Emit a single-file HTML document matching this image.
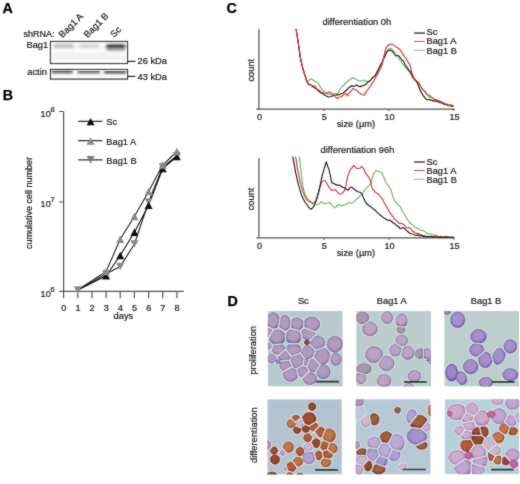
<!DOCTYPE html>
<html><head><meta charset="utf-8">
<style>
html,body{margin:0;padding:0;background:#fff;width:520px;height:484px;overflow:hidden}
svg{display:block;will-change:transform}
text{font-family:"Liberation Sans",sans-serif;fill:#1a1a1a;stroke:#1a1a1a;stroke-width:0.2px}
.pl{font-weight:bold;font-size:14.3px;fill:#000;stroke:#000;stroke-width:0.25}
.t9{font-size:8.7px}
.tv{font-size:9.3px}
.yl{font-size:9px}
.ax{stroke:#555;stroke-width:1.2;fill:none}
.tk{font-size:8.6px}
.sup{font-size:7px}
</style></head><body>
<svg width="520" height="484" viewBox="0 0 520 484">
<defs><filter id="gblur" x="0" y="0" width="100%" height="100%" filterUnits="userSpaceOnUse"><feConvolveMatrix order="3" kernelMatrix="1 2 1 2 20 2 1 2 1" divisor="32" edgeMode="duplicate" preserveAlpha="false"/></filter></defs>
<g filter="url(#gblur)">
<!-- ===== Panel A ===== -->
<text class="pl" x="2.5" y="12.7">A</text>
<text class="t9" transform="translate(23.6,36.8) scale(1.07,1)" style="font-size:8.4px">shRNA:</text>
<text class="tv" transform="translate(62.5,38.3) rotate(-45)">Bag1 A</text>
<text class="tv" transform="translate(87.5,38.3) rotate(-45)">Bag1 B</text>
<text class="tv" transform="translate(114,38) rotate(-45)">Sc</text>
<text class="t9" transform="translate(26.5,47.6) scale(1.07,1)">Bag1</text>
<text class="t9" transform="translate(27.3,75) scale(1.07,1)">actin</text>
<defs>
<filter id="b1" x="-30%" y="-100%" width="160%" height="300%"><feGaussianBlur stdDeviation="1.7 1.1"/></filter>
<filter id="b2" x="-30%" y="-100%" width="160%" height="300%"><feGaussianBlur stdDeviation="1.0 0.6"/></filter>
<clipPath id="cpA1"><rect x="51" y="42" width="76" height="21"/></clipPath>
<clipPath id="cpA2"><rect x="51" y="70" width="76" height="9"/></clipPath>
</defs>
<rect x="50.5" y="41.5" width="77" height="22" fill="#fafafa" stroke="#1e1e1e" stroke-width="1.15"/>
<g clip-path="url(#cpA1)">
<g filter="url(#b1)">
<rect x="53.5" y="43.8" width="20.5" height="4.4" rx="2" fill="#c2c2c2"/>
<rect x="79" y="44" width="20.5" height="4" rx="2" fill="#d6d6d6"/>
<rect x="106" y="44.2" width="19.5" height="4.6" rx="2.2" fill="#3c3c3c"/>
<rect x="106.5" y="48" width="18.5" height="3" rx="1.5" fill="#a4a4a4"/>
<rect x="53" y="53" width="72" height="7" fill="#f3f3f3"/>
</g>
</g>
<rect x="50.5" y="69.5" width="77" height="9.6" fill="#f8f8f8" stroke="#1e1e1e" stroke-width="1.15"/>
<g clip-path="url(#cpA2)">
<g filter="url(#b2)">
<rect x="51.8" y="70.8" width="20.8" height="1.9" rx="1" fill="#585858"/>
<rect x="51.8" y="72.2" width="20.8" height="2" rx="1" fill="#a2a2a2"/>
<rect x="77.5" y="70.9" width="22.5" height="1.9" rx="1" fill="#5c5c5c"/>
<rect x="77.5" y="72.3" width="22.5" height="2" rx="1" fill="#a6a6a6"/>
<rect x="104.2" y="70.9" width="21.8" height="2.0" rx="1" fill="#545454"/>
<rect x="104.2" y="72.4" width="21.8" height="2" rx="1" fill="#a0a0a0"/>
</g>
</g>
<line x1="127.5" y1="61.4" x2="135.5" y2="61.4" stroke="#222" stroke-width="1.15"/>
<line x1="127.5" y1="76.4" x2="135.5" y2="76.4" stroke="#222" stroke-width="1.15"/>
<text class="t9" transform="translate(137.5,63.8) scale(1.07,1)">26 kDa</text>
<text class="t9" transform="translate(137.5,79.5) scale(1.07,1)">43 kDa</text>

<!-- ===== Panel B ===== -->
<text class="pl" x="2.8" y="99.9">B</text>
<g class="ax">
<path d="M63.6,111.5V291.4M59,111.5H63.6M59,202H63.6M59,291.4H183.8"/>
<path d="M63.6,291.4V298.3M77.8,291.4V298.3M91.9,291.4V298.3M106.1,291.4V298.3M120.2,291.4V298.3M134.4,291.4V298.3M148.6,291.4V298.3M162.7,291.4V298.3M176.9,291.4V298.3"/>
</g>
<text class="tk" transform="translate(63.8,311) scale(1.07,1)" text-anchor="middle">0</text>
<text class="tk" transform="translate(78.0,311) scale(1.07,1)" text-anchor="middle">1</text>
<text class="tk" transform="translate(92.1,311) scale(1.07,1)" text-anchor="middle">2</text>
<text class="tk" transform="translate(106.3,311) scale(1.07,1)" text-anchor="middle">3</text>
<text class="tk" transform="translate(120.4,311) scale(1.07,1)" text-anchor="middle">4</text>
<text class="tk" transform="translate(134.6,311) scale(1.07,1)" text-anchor="middle">5</text>
<text class="tk" transform="translate(148.8,311) scale(1.07,1)" text-anchor="middle">6</text>
<text class="tk" transform="translate(162.9,311) scale(1.07,1)" text-anchor="middle">7</text>
<text class="tk" transform="translate(177.1,311) scale(1.07,1)" text-anchor="middle">8</text>
<text class="t9" transform="translate(113.6,318.5) scale(1.07,1)">days</text>
<text class="tk" transform="translate(40.6,116.8) scale(1.07,1)">10</text><text class="sup" transform="translate(50.4,111.8) scale(1.07,1)">8</text>
<text class="tk" transform="translate(40.6,206.5) scale(1.07,1)">10</text><text class="sup" transform="translate(50.4,201.5) scale(1.07,1)">7</text>
<text class="tk" transform="translate(40.6,296.6) scale(1.07,1)">10</text><text class="sup" transform="translate(50.4,291.6) scale(1.07,1)">6</text>
<text class="yl" transform="translate(31.5,249) rotate(-90) scale(1,1.07)">cumulative cell number</text>
<polyline points="77.8,290 106.1,273.7 120.2,266.5 134.4,244 148.6,202 162.7,167 176.9,155.7" fill="none" stroke="#222" stroke-width="1.1"/>
<polyline points="77.8,290 106.1,271.5 120.2,239.3 134.4,216.5 148.6,191.5 162.7,165 176.9,151.5" fill="none" stroke="#222" stroke-width="1.1"/>
<polyline points="77.8,290 106.1,275.8 120.2,255.5 134.4,232.3 148.6,205.2 162.7,168.5 176.9,156.5" fill="none" stroke="#111" stroke-width="1.1"/>
<path d="M73.8,286.3L81.8,286.3L77.8,293.7Z" fill="#8a8a8a"/>
<path d="M102.1,270.0L110.1,270.0L106.1,277.4Z" fill="#8a8a8a"/>
<path d="M116.2,262.8L124.2,262.8L120.2,270.2Z" fill="#8a8a8a"/>
<path d="M130.4,240.3L138.4,240.3L134.4,247.7Z" fill="#8a8a8a"/>
<path d="M144.6,198.3L152.6,198.3L148.6,205.7Z" fill="#8a8a8a"/>
<path d="M158.7,163.3L166.7,163.3L162.7,170.7Z" fill="#8a8a8a"/>
<path d="M172.9,152.0L180.9,152.0L176.9,159.4Z" fill="#8a8a8a"/>
<path d="M106.1,272.1L110.1,279.5L102.1,279.5Z" fill="#111"/>
<path d="M120.2,251.8L124.2,259.2L116.2,259.2Z" fill="#111"/>
<path d="M134.4,228.6L138.4,236.0L130.4,236.0Z" fill="#111"/>
<path d="M148.6,201.5L152.6,208.9L144.6,208.9Z" fill="#111"/>
<path d="M162.7,164.8L166.7,172.2L158.7,172.2Z" fill="#111"/>
<path d="M176.9,152.8L180.9,160.2L172.9,160.2Z" fill="#111"/>
<path d="M106.1,267.8L110.1,275.2L102.1,275.2Z" fill="#8a8a8a"/>
<path d="M120.2,235.6L124.2,243.0L116.2,243.0Z" fill="#8a8a8a"/>
<path d="M134.4,212.8L138.4,220.2L130.4,220.2Z" fill="#8a8a8a"/>
<path d="M148.6,187.8L152.6,195.2L144.6,195.2Z" fill="#8a8a8a"/>
<path d="M162.7,161.3L166.7,168.7L158.7,168.7Z" fill="#8a8a8a"/>
<path d="M176.9,147.8L180.9,155.2L172.9,155.2Z" fill="#8a8a8a"/>
<path d="M78.2,121.4H102.4M78.2,140.7H102.4M78.2,159.8H102.4" stroke="#333" stroke-width="1.2" fill="none"/>
<path d="M90.6,117.9L94.6,125.3L86.6,125.3Z" fill="#111"/>
<path d="M90.6,137.3L94.6,144.7L86.6,144.7Z" fill="#8a8a8a"/>
<path d="M86.6,156.1L94.6,156.1L90.6,163.5Z" fill="#7a7a7a"/>
<text class="t9" transform="translate(106.3,125) scale(1.07,1)">Sc</text>
<text class="t9" transform="translate(106.3,144.5) scale(1.07,1)">Bag1 A</text>
<text class="t9" transform="translate(106.3,163.5) scale(1.07,1)">Bag1 B</text>
<!-- ===== Panel C ===== -->
<text class="pl" x="226.4" y="12.9">C</text>
<path class="ax" d="M258.9,29V109.1M256.2,109.1H454.4M323.8,109.1v2M389,109.1v2M453.9,109.1v2"/>
<text class="tk" transform="translate(259.5,119.6) scale(1.07,1)" text-anchor="middle">0</text>
<text class="tk" transform="translate(324.4,119.6) scale(1.07,1)" text-anchor="middle">5</text>
<text class="tk" transform="translate(389.6,119.6) scale(1.07,1)" text-anchor="middle">10</text>
<text class="tk" transform="translate(454.6,119.6) scale(1.07,1)" text-anchor="middle">15</text>
<text class="t9" transform="translate(336.7,127) scale(1.07,1)">size (µm)</text>
<path class="ax" d="M258.9,158V237.8M256.2,237.8H454.4M323.8,237.8v2M389,237.8v2M453.9,237.8v2"/>
<text class="tk" transform="translate(259.5,248.6) scale(1.07,1)" text-anchor="middle">0</text>
<text class="tk" transform="translate(324.4,248.6) scale(1.07,1)" text-anchor="middle">5</text>
<text class="tk" transform="translate(389.6,248.6) scale(1.07,1)" text-anchor="middle">10</text>
<text class="tk" transform="translate(454.6,248.6) scale(1.07,1)" text-anchor="middle">15</text>
<text class="t9" transform="translate(336.7,256) scale(1.07,1)">size (µm)</text>
<text class="t9" transform="translate(322.6,24.7) scale(1.07,1)">differentiation 0h</text>
<text class="t9" transform="translate(320.6,152.7) scale(1.07,1)">differentiation 96h</text>
<text class="tv" transform="translate(253.9,81.6) rotate(-90) scale(1,1.07)">count</text>
<text class="tv" transform="translate(254.4,210.3) rotate(-90) scale(1,1.07)">count</text>
<polyline points="296.1,29.1 298.4,43.6 300.2,56.6 302.1,65.9 303.5,70.6 304.9,74.8 306.7,79.9 308.6,80.8 310.0,79.4 311.4,78.9 312.7,79.6 314.0,80.7 316.0,82.0 317.4,82.6 318.8,83.9 320.6,87.6 322.5,89.9 324.1,91.5 325.6,91.9 327.2,93.6 328.6,94.2 329.9,93.9 331.3,94.9 332.7,95.1 334.1,93.7 335.5,93.2 336.9,93.3 338.3,93.3 340.0,89.0 341.9,86.9 343.7,85.3 345.3,83.3 346.8,82.0 348.4,80.6 349.9,79.8 351.5,78.5 353.0,77.6 354.9,78.5 356.7,79.8 358.5,80.5 360.4,81.2 361.8,81.1 363.2,79.9 365.0,80.9 366.9,81.4 368.5,81.3 370.0,80.2 371.6,78.5 373.5,76.9 375.3,75.4 377.1,72.6 379.0,70.1 380.9,65.8 382.7,62.2 384.1,57.5 385.5,53.3 386.9,51.2 388.3,48.9 389.7,48.7 391.1,48.6 393.0,50.5 394.8,52.0 396.2,54.1 397.6,55.5 400.0,60.2 402.4,63.4 404.2,65.8 406.1,68.2 408.0,70.6 409.9,72.6 411.2,75.3 412.6,77.8 414.2,79.4 415.7,81.0 417.3,82.9 418.8,84.8 420.4,86.8 421.9,89.1 423.8,90.9 425.6,93.2 427.2,95.2 428.7,96.7 430.3,97.5 431.7,98.0 433.1,98.4 434.5,99.5 435.9,100.7 437.3,101.2 438.6,101.6 440.0,102.7 441.4,102.7 442.8,103.6 444.2,104.6 445.6,104.7 447.0,105.2 448.3,105.2 449.6,105.9 450.9,106.6 452.2,105.9 453.5,106.7" fill="none" stroke="#62bc5c" stroke-width="1.15" stroke-linejoin="round"/>
<polyline points="296.1,29.1 298.4,43.6 300.2,56.6 302.1,65.9 303.5,70.6 304.9,75.2 306.7,81.2 308.6,84.6 310.0,84.4 311.4,85.2 312.8,86.8 314.2,87.5 315.6,88.6 316.9,89.3 318.3,90.8 319.7,92.0 321.1,92.9 322.5,93.4 323.9,94.6 325.3,95.5 327.1,96.3 329.0,97.0 330.4,96.8 331.8,96.1 333.2,95.8 334.6,95.3 336.0,94.9 337.3,94.6 338.6,94.9 340.0,94.5 341.4,93.6 342.8,93.3 344.2,92.0 345.6,91.1 347.0,89.5 348.4,88.1 349.7,87.3 351.1,85.9 352.5,86.1 353.9,86.4 355.3,85.8 356.7,85.1 358.5,86.3 360.4,86.6 362.0,85.9 363.5,85.5 365.1,84.7 366.6,83.5 368.2,81.8 369.7,81.2 371.1,79.8 372.5,77.6 373.9,76.9 375.3,75.4 376.9,72.1 378.4,69.0 380.0,65.9 381.9,62.6 383.7,58.4 385.5,55.1 387.4,50.8 388.8,50.7 390.2,49.9 391.5,50.7 392.9,52.0 394.3,54.3 395.7,55.9 397.1,55.8 398.5,55.7 400.1,57.5 401.8,59.7 403.4,60.8 405.2,64.9 407.1,67.4 409.0,70.5 410.8,72.2 412.2,75.7 413.6,78.1 415.5,80.3 417.3,82.6 418.7,86.5 420.1,90.1 421.5,92.6 422.9,95.3 424.8,97.5 426.6,99.8 428.0,99.7 429.4,99.3 430.7,100.3 432.1,100.4 434.0,101.1 435.9,100.8 437.3,101.8 438.6,101.6 440.0,102.7 441.4,102.8 442.8,103.2 444.2,104.4 445.6,104.0 447.0,104.9 448.3,105.6 449.6,105.2 450.9,105.4 452.2,106.4 453.5,106.3" fill="none" stroke="#1e1e1e" stroke-width="1.15" stroke-linejoin="round"/>
<polyline points="296.1,29.1 298.4,43.6 300.2,56.6 302.1,65.9 303.5,70.6 304.9,75.2 306.7,80.4 308.6,84.1 310.0,84.5 311.4,85.3 312.8,85.9 314.2,85.8 315.6,86.9 316.9,89.0 318.3,89.6 319.7,90.7 321.1,92.2 322.5,92.3 323.9,93.4 325.3,93.7 326.9,93.3 328.4,92.1 330.0,92.0 331.9,93.7 333.7,94.7 335.5,96.8 337.4,98.6 339.2,97.0 341.1,96.8 342.6,95.7 344.2,94.4 345.7,93.2 347.4,95.9 348.8,93.6 350.2,92.1 351.6,90.4 353.0,88.4 354.9,89.6 356.7,89.9 358.5,92.2 360.4,93.6 362.3,94.7 364.2,95.1 366.0,91.9 367.9,89.6 369.4,87.2 371.0,85.6 372.5,82.5 374.1,80.3 375.6,77.4 377.2,75.2 378.7,72.0 380.3,68.8 381.8,65.9 383.6,57.5 385.5,49.2 386.9,46.9 388.3,44.9 390.1,44.3 392.0,44.1 393.4,44.9 394.8,45.9 396.2,47.0 397.6,47.8 400.0,49.5 402.4,53.4 404.2,56.1 406.1,58.5 408.0,61.9 409.9,64.9 411.2,70.0 412.6,74.8 414.0,77.8 415.4,79.9 417.2,81.4 419.1,83.0 421.0,86.7 422.9,89.6 424.8,90.9 426.6,94.0 428.5,95.0 430.3,96.1 431.8,97.2 433.4,98.7 434.9,99.7 436.5,99.4 438.0,100.6 439.6,100.6 441.1,102.0 442.7,102.2 444.2,103.4 445.8,104.2 447.3,104.3 448.9,105.4 450.4,105.0 452.0,105.0 453.5,105.8" fill="none" stroke="#d9343c" stroke-width="1.15" stroke-linejoin="round"/>
<polyline points="299.3,156.5 301.1,172.3 303.0,187.2 304.4,191.8 305.8,196.1 307.6,198.3 309.5,201.0 311.1,202.0 312.6,203.1 314.2,204.7 316.0,204.8 317.9,204.2 319.8,203.2 321.6,201.7 323.5,203.0 325.3,203.7 326.8,203.2 328.4,202.8 329.9,202.6 331.5,204.9 333.0,206.4 334.6,207.9 336.5,206.5 338.3,204.5 340.1,205.0 342.0,205.8 343.9,205.1 345.7,204.3 347.2,203.8 348.7,202.4 350.5,203.0 352.4,203.1 354.2,201.6 356.1,199.8 358.0,198.3 359.9,195.9 361.8,194.1 363.6,191.3 365.5,189.1 367.3,187.0 369.1,185.7 371.0,183.4 372.9,175.2 374.3,173.2 375.7,170.8 377.0,170.9 378.4,171.3 379.8,172.0 381.2,172.2 382.6,174.7 384.0,177.7 385.4,181.5 386.8,183.9 388.6,186.2 390.5,189.0 392.4,194.6 394.2,200.3 395.8,201.8 397.3,203.9 398.9,205.7 400.5,206.8 402.1,210.8 403.7,213.2 405.5,216.5 407.4,219.4 409.3,222.0 411.2,223.8 413.0,225.4 414.9,227.4 416.8,227.9 418.6,229.1 420.3,230.2 421.9,230.2 423.6,230.9 425.2,231.9 426.9,233.4 428.5,234.0 430.1,234.0 431.6,234.5 433.1,234.7 434.7,235.5 436.2,235.2 437.8,236.2 439.3,236.6 440.9,236.9 442.3,236.8 443.8,237.1 445.2,236.2 446.7,236.6 448.2,237.4 449.6,237.3 451.0,236.9 452.5,237.5 453.9,237.0" fill="none" stroke="#62bc5c" stroke-width="1.15" stroke-linejoin="round"/>
<polyline points="295.6,156.5 297.4,168.6 298.8,175.1 300.2,181.6 301.6,186.7 303.0,191.9 304.4,195.3 305.8,198.6 307.6,200.2 309.5,201.4 311.4,203.0 313.2,203.4 314.6,202.0 316.0,200.7 317.4,196.2 318.8,191.8 320.2,186.7 321.6,182.0 323.5,180.7 325.3,180.7 327.1,183.7 329.0,187.2 330.4,189.1 331.8,190.4 333.6,190.1 335.5,189.7 337.1,191.9 338.6,193.3 340.2,194.2 342.0,193.5 343.9,191.4 345.5,188.0 347.8,176.1 349.2,172.3 350.6,169.0 352.0,168.1 353.4,165.5 354.8,166.4 356.1,168.1 357.5,168.5 358.9,168.4 360.3,168.0 361.7,166.3 363.6,168.8 365.4,172.9 366.8,175.1 368.2,176.2 370.1,179.7 371.9,187.7 373.3,189.9 374.7,191.6 376.5,193.0 378.4,194.2 380.3,196.5 382.2,198.7 384.0,202.2 385.9,205.8 387.8,208.4 389.6,212.4 391.1,214.2 392.7,216.3 394.2,219.1 395.8,220.1 397.3,221.4 398.9,223.0 400.3,223.6 401.7,223.2 403.1,224.5 404.6,225.3 406.2,228.0 408.7,227.5 410.5,228.4 412.4,231.1 414.2,231.9 416.1,233.4 417.8,233.4 419.4,234.1 421.1,234.8 422.6,235.9 424.1,235.3 425.5,236.2 427.0,236.6 428.5,236.9 429.9,236.3 431.4,236.4 432.9,236.6 434.3,237.0 435.8,236.3 437.2,237.1 438.6,237.1 440.0,237.2 441.3,236.4 442.7,237.4 444.1,236.5 445.5,236.8 446.8,237.1 448.2,237.4 449.6,236.8 451.0,237.6 452.5,237.2 453.9,237.3" fill="none" stroke="#d9343c" stroke-width="1.15" stroke-linejoin="round"/>
<polyline points="292.8,156.5 294.2,164.4 295.6,172.3 297.0,178.4 298.4,184.4 299.8,189.1 301.1,194.0 303.0,198.2 304.9,202.0 306.8,204.5 308.6,207.1 310.0,208.5 311.4,209.1 312.8,207.7 314.2,205.6 315.5,202.3 316.9,198.3 318.3,192.8 319.7,187.2 321.1,180.6 322.5,174.1 324.4,168.1 326.2,161.8 327.6,166.1 329.0,169.5 330.4,176.0 331.8,182.8 333.6,183.4 335.5,184.4 337.4,185.1 339.2,185.0 341.0,186.3 342.9,187.5 344.3,187.6 345.7,188.8 347.8,190.2 349.2,189.0 350.6,187.0 352.5,187.7 354.3,189.3 356.1,190.7 358.0,191.7 359.9,192.3 361.7,193.4 363.5,198.0 365.4,201.8 367.2,204.3 369.1,205.8 371.0,206.8 372.9,208.7 374.8,209.7 376.6,211.8 378.5,213.6 380.3,215.0 382.1,216.6 384.0,218.0 385.9,219.1 387.7,220.2 389.5,220.1 391.4,221.3 393.3,223.0 395.2,224.1 396.7,225.6 398.3,226.3 399.8,228.4 401.8,228.1 403.7,227.7 406.2,230.4 407.8,231.5 409.3,233.0 410.7,233.7 412.2,233.7 413.6,234.2 415.2,235.2 416.7,235.4 418.2,234.9 419.8,236.1 421.2,235.4 422.7,235.9 424.1,236.7 425.6,236.6 427.1,236.4 428.5,236.7 429.9,236.7 431.2,236.4 432.6,237.4 433.9,236.4 435.3,236.8 436.6,237.2 438.0,236.8 439.3,237.5 440.7,236.7 442.0,237.5 443.4,237.4 444.7,237.2 446.0,237.5 447.3,237.1 448.6,237.5 450.0,237.5 451.3,237.2 452.6,237.2 453.9,237.3" fill="none" stroke="#1e1e1e" stroke-width="1.15" stroke-linejoin="round"/>
<path d="M414,33.1H424.9" stroke="#4a4a4a" stroke-width="1.5"/>
<path d="M414,41.4H424.9" stroke="#d04a55" stroke-width="1"/>
<path d="M414,50.3H424.9" stroke="#7cc472" stroke-width="1"/>
<text class="t9" transform="translate(426.5,34.5) scale(1.07,1)">Sc</text>
<text class="t9" transform="translate(426.5,44.4) scale(1.07,1)">Bag1 A</text>
<text class="t9" transform="translate(426.5,53.8) scale(1.07,1)">Bag1 B</text>
<path d="M414,162H424.9" stroke="#4a4a4a" stroke-width="1.5"/>
<path d="M414,170.5H424.9" stroke="#d04a55" stroke-width="1"/>
<path d="M414,179.3H424.9" stroke="#7cc472" stroke-width="1"/>
<text class="t9" transform="translate(426.5,164.8) scale(1.07,1)">Sc</text>
<text class="t9" transform="translate(426.5,173.6) scale(1.07,1)">Bag1 A</text>
<text class="t9" transform="translate(426.5,182.5) scale(1.07,1)">Bag1 B</text><!-- ===== Panel D ===== -->
<text class="pl" x="227.4" y="305.9">D</text>
<defs>
<filter id="cb" x="-5%" y="-5%" width="110%" height="110%"><feGaussianBlur stdDeviation="0.6"/></filter>
<radialGradient id="gp" cx="48%" cy="46%" r="54%"><stop offset="0" stop-color="#ad9cbd"/><stop offset="0.55" stop-color="#ad9cbd"/><stop offset="0.82" stop-color="#a08eb3"/><stop offset="1" stop-color="#74649a"/></radialGradient>
<radialGradient id="gP" cx="48%" cy="46%" r="54%"><stop offset="0" stop-color="#a89ab4"/><stop offset="0.55" stop-color="#a89ab4"/><stop offset="0.82" stop-color="#9a8aa8"/><stop offset="1" stop-color="#7e6e94"/></radialGradient>
<radialGradient id="gq" cx="48%" cy="46%" r="54%"><stop offset="0" stop-color="#baa4c4"/><stop offset="0.55" stop-color="#baa4c4"/><stop offset="0.82" stop-color="#aa94b8"/><stop offset="1" stop-color="#766694"/></radialGradient>
<radialGradient id="gQ" cx="48%" cy="46%" r="54%"><stop offset="0" stop-color="#a898ae"/><stop offset="0.55" stop-color="#a898ae"/><stop offset="0.82" stop-color="#988aa0"/><stop offset="1" stop-color="#6e6282"/></radialGradient>
<radialGradient id="gv" cx="48%" cy="46%" r="54%"><stop offset="0" stop-color="#a690c8"/><stop offset="0.55" stop-color="#a690c8"/><stop offset="0.82" stop-color="#927cbc"/><stop offset="1" stop-color="#58489a"/></radialGradient>
<radialGradient id="gV" cx="48%" cy="46%" r="54%"><stop offset="0" stop-color="#9c88c8"/><stop offset="0.55" stop-color="#9c88c8"/><stop offset="0.82" stop-color="#8270b8"/><stop offset="1" stop-color="#4c3c90"/></radialGradient>
<radialGradient id="gb" cx="48%" cy="46%" r="54%"><stop offset="0" stop-color="#b85c2e"/><stop offset="0.55" stop-color="#b85c2e"/><stop offset="0.82" stop-color="#a24a24"/><stop offset="1" stop-color="#6a2a14"/></radialGradient>
<radialGradient id="gd" cx="48%" cy="46%" r="54%"><stop offset="0" stop-color="#9a4a28"/><stop offset="0.55" stop-color="#9a4a28"/><stop offset="0.82" stop-color="#82381c"/><stop offset="1" stop-color="#58220e"/></radialGradient>
<radialGradient id="go" cx="48%" cy="46%" r="54%"><stop offset="0" stop-color="#c47444"/><stop offset="0.55" stop-color="#c47444"/><stop offset="0.82" stop-color="#ae5e32"/><stop offset="1" stop-color="#763418"/></radialGradient>
<radialGradient id="gl" cx="48%" cy="46%" r="54%"><stop offset="0" stop-color="#b0a2d0"/><stop offset="0.55" stop-color="#b0a2d0"/><stop offset="0.82" stop-color="#a090c4"/><stop offset="1" stop-color="#8070ac"/></radialGradient>
<radialGradient id="gL" cx="48%" cy="46%" r="54%"><stop offset="0" stop-color="#a494cc"/><stop offset="0.55" stop-color="#a494cc"/><stop offset="0.82" stop-color="#9080c0"/><stop offset="1" stop-color="#6c5ca8"/></radialGradient>
<radialGradient id="gg" cx="48%" cy="46%" r="54%"><stop offset="0" stop-color="#c8bad0"/><stop offset="0.55" stop-color="#c8bad0"/><stop offset="0.82" stop-color="#b8a8c4"/><stop offset="1" stop-color="#a494b4"/></radialGradient>
<radialGradient id="gh" cx="48%" cy="46%" r="54%"><stop offset="0" stop-color="#baacd4"/><stop offset="0.55" stop-color="#baacd4"/><stop offset="0.82" stop-color="#aa9cc8"/><stop offset="1" stop-color="#8c7cb2"/></radialGradient>
<radialGradient id="gf" cx="48%" cy="46%" r="54%"><stop offset="0" stop-color="#c2c6da"/><stop offset="0.55" stop-color="#c2c6da"/><stop offset="0.82" stop-color="#bec0d6"/><stop offset="1" stop-color="#b4b4d0"/></radialGradient>
<radialGradient id="gk" cx="48%" cy="46%" r="54%"><stop offset="0" stop-color="#cfaacb"/><stop offset="0.55" stop-color="#cfaacb"/><stop offset="0.82" stop-color="#c09ac0"/><stop offset="1" stop-color="#a07aa8"/></radialGradient>
<radialGradient id="gK" cx="48%" cy="46%" r="54%"><stop offset="0" stop-color="#c0a6d2"/><stop offset="0.55" stop-color="#c0a6d2"/><stop offset="0.82" stop-color="#b096c6"/><stop offset="1" stop-color="#9478ae"/></radialGradient>
<radialGradient id="gm" cx="48%" cy="46%" r="54%"><stop offset="0" stop-color="#c8669a"/><stop offset="0.55" stop-color="#c8669a"/><stop offset="0.82" stop-color="#b8588c"/><stop offset="1" stop-color="#984476"/></radialGradient>
<radialGradient id="gr" cx="48%" cy="46%" r="54%"><stop offset="0" stop-color="#a23c48"/><stop offset="0.55" stop-color="#a23c48"/><stop offset="0.82" stop-color="#8a2c34"/><stop offset="1" stop-color="#6a1e24"/></radialGradient>
<radialGradient id="gR" cx="48%" cy="46%" r="54%"><stop offset="0" stop-color="#8a4a3a"/><stop offset="0.55" stop-color="#8a4a3a"/><stop offset="0.82" stop-color="#7a3428"/><stop offset="1" stop-color="#5a2018"/></radialGradient>
<radialGradient id="gB" cx="48%" cy="46%" r="54%"><stop offset="0" stop-color="#a0603a"/><stop offset="0.55" stop-color="#a0603a"/><stop offset="0.82" stop-color="#8a4a2a"/><stop offset="1" stop-color="#5c2c16"/></radialGradient>
<radialGradient id="gx" cx="48%" cy="46%" r="54%"><stop offset="0" stop-color="#a44c2a"/><stop offset="0.55" stop-color="#a44c2a"/><stop offset="0.82" stop-color="#8c3c1e"/><stop offset="1" stop-color="#5e2410"/></radialGradient>
<clipPath id="ci1"><rect x="267.8" y="311" width="75.0" height="75.5"/></clipPath>
<clipPath id="ci2"><rect x="356.2" y="311.1" width="74.8" height="75.4"/></clipPath>
<clipPath id="ci3"><rect x="444.2" y="311.1" width="74.8" height="75.5"/></clipPath>
<clipPath id="ci4"><rect x="267.3" y="399.2" width="74.6" height="75.3"/></clipPath>
<clipPath id="ci5"><rect x="355.6" y="399.2" width="75.0" height="75.3"/></clipPath>
<clipPath id="ci6"><rect x="444.8" y="399.2" width="74.5" height="75.0"/></clipPath>
</defs>
<g clip-path="url(#ci1)">
<rect x="267.8" y="311" width="75.0" height="75.5" fill="#b7c9cc"/>
<g filter="url(#cb)">
<path d="M276.8,312.5 275.1,311.7 273.3,311.4 271.6,311.6 269.9,312.3 268.4,313.5 267.1,315.0 266.2,316.8 265.6,318.8 265.4,320.9 265.6,323.0 266.1,325.0 266.8,326.4 267.3,326.8 273.3,329.4 273.9,329.4 277.9,328.4 278.4,328.1 278.7,327.5 280.3,317.4 279.3,315.0 278.2,313.7Z" fill="#eaeaf4" opacity="0.9"/>
<path d="M290.2,317.5 289.2,316.1 287.9,315.0 286.2,314.2 284.8,314.0 283.2,314.2 281.7,314.9 280.6,315.8 280.2,316.4 278.7,326.5 278.7,327.1 279.7,328.7 284.7,331.4 285.3,331.5 286.4,331.3 287.7,330.7 289.2,329.5 290.2,328.1 290.7,326.9 291.3,320.8 291.0,319.2Z" fill="#eaeaf4" opacity="0.9"/>
<path d="M301.8,318.2 300.1,317.2 298.5,316.7 297.0,316.6 295.3,316.7 293.7,317.2 292.0,318.2 291.3,319.3 290.4,327.5 290.7,328.3 291.3,328.8 299.3,330.9 300.1,330.8 301.8,329.8 303.0,328.6 303.9,326.9 303.9,321.2 303.0,319.4Z" fill="#eaeaf4" opacity="0.9"/>
<path d="M320.2,320.6 318.9,318.8 317.4,317.6 315.7,316.6 313.7,316.1 311.7,315.9 309.7,316.1 307.7,316.7 306.0,317.7 304.7,318.8 303.9,319.9 303.7,320.5 303.7,327.0 303.8,327.6 304.3,327.9 314.3,331.8 315.9,331.5 317.4,330.6 318.9,329.4 320.0,327.8 320.8,326.1 321.0,324.0 320.8,322.1Z" fill="#eaeaf4" opacity="0.9"/>
<path d="M272.5,329.3 271.9,328.6 267.0,326.5 266.4,326.4 265.5,327.1 264.5,329.3 264.2,330.7 264.2,333.3 265.0,336.0 266.5,338.0 267.2,338.4 268.0,338.5 268.6,338.0 272.7,331.2 272.8,330.5Z" fill="#eaeaf4" opacity="0.9"/>
<path d="M281.6,329.6 279.6,329.0 277.3,328.7 275.2,329.0 273.8,329.4 273.2,329.9 268.2,338.2 268.1,338.8 268.9,341.2 270.1,342.8 271.6,344.1 273.4,344.9 283.0,344.0 284.7,342.8 285.5,341.6 285.7,341.0 285.5,333.2 284.7,331.8 283.2,330.5Z" fill="#eaeaf4" opacity="0.9"/>
<path d="M300.2,331.0 291.0,328.5 289.8,328.7 287.9,329.9 286.6,331.4 285.6,332.9 285.3,333.9 285.5,340.4 286.7,342.6 287.7,343.6 288.4,343.9 298.6,343.9 299.3,343.6 300.4,342.4 301.4,340.9 302.1,338.5 301.0,332.3Z" fill="#eaeaf4" opacity="0.9"/>
<path d="M304.5,328.1 302.9,328.8 301.6,329.8 300.8,330.7 300.6,331.5 301.9,338.1 302.9,339.2 306.1,340.3 308.1,340.4 310.5,340.1 311.0,339.8 316.1,334.0 316.3,332.9 315.7,332.1 305.3,328.1Z" fill="#eaeaf4" opacity="0.9"/>
<path d="M324.1,337.7 322.6,336.3 321.0,335.4 319.5,334.9 317.4,334.7 315.1,335.1 309.3,341.4 309.0,342.3 309.2,344.0 309.5,344.6 314.4,349.4 315.5,349.9 317.0,349.9 323.5,347.7 324.1,347.1 325.2,345.7 325.7,344.2 326.0,342.5 325.7,340.6 325.0,338.9Z" fill="#eaeaf4" opacity="0.9"/>
<path d="M343.7,344.3 343.5,342.3 342.9,340.3 341.7,338.4 340.5,337.1 338.8,335.9 336.9,335.2 334.9,335.0 332.7,335.2 330.8,335.9 329.1,337.1 327.8,338.5 326.7,340.3 326.1,342.3 325.9,344.1 326.1,346.1 326.7,348.1 327.9,350.0 329.1,351.3 330.8,352.5 332.7,353.2 334.7,353.4 336.9,353.2 338.8,352.5 340.5,351.3 341.8,349.9 342.9,348.1 343.5,346.1Z" fill="#eaeaf4" opacity="0.9"/>
<path d="M284.5,345.1 283.1,344.0 282.5,343.9 273.7,344.7 272.9,345.4 271.2,350.4 271.6,351.8 272.7,353.3 275.2,354.9 276.9,355.4 278.1,355.5 278.8,355.3 285.8,349.4 286.1,348.5 285.9,347.5 285.3,346.1Z" fill="#eaeaf4" opacity="0.9"/>
<path d="M300.8,345.9 298.9,343.9 298.3,343.7 288.7,343.7 287.2,344.7 286.1,346.2 285.5,347.7 285.6,349.1 290.2,355.2 291.6,355.8 292.6,355.8 299.5,353.6 300.8,352.3 301.5,350.5 301.7,349.0 301.5,347.4Z" fill="#eaeaf4" opacity="0.9"/>
<path d="M310.1,344.9 309.5,344.6 307.9,344.4 306.2,344.7 304.7,345.3 303.3,346.2 302.1,347.4 301.2,348.9 300.8,350.3 300.6,352.2 301.0,354.5 304.7,358.8 306.2,359.5 307.9,359.8 309.5,359.6 311.1,359.0 312.7,358.0 313.8,356.7 315.3,351.5 315.2,350.3 314.9,349.5Z" fill="#eaeaf4" opacity="0.9"/>
<path d="M327.8,349.1 326.0,347.8 324.6,347.3 323.9,347.3 316.0,350.1 315.3,350.9 313.7,356.3 313.9,358.5 320.4,365.0 321.0,365.3 322.4,365.4 324.1,365.2 326.0,364.6 327.8,363.3 329.3,361.6 330.8,355.3 330.8,354.3 330.1,352.1 329.2,350.6Z" fill="#eaeaf4" opacity="0.9"/>
<path d="M342.4,357.9 341.9,356.4 341.2,355.0 340.0,353.7 338.7,352.9 337.3,352.3 336.0,352.2 334.5,352.3 332.9,353.0 330.9,354.7 329.4,360.5 329.4,361.1 330.6,363.8 331.6,364.9 332.9,365.8 334.5,366.5 335.8,366.6 337.3,366.5 338.9,365.8 340.2,364.9 341.2,363.8 341.9,362.4 342.4,360.9Z" fill="#eaeaf4" opacity="0.9"/>
<path d="M277.0,358.7 276.8,357.3 275.7,355.1 274.0,353.8 271.6,353.2 269.2,353.7 268.0,354.4 266.5,356.4 266.0,358.5 266.2,359.9 267.3,362.1 269.0,363.4 271.4,364.0 273.8,363.5 275.0,362.8 276.5,360.8Z" fill="#eaeaf4" opacity="0.9"/>
<path d="M285.1,350.1 284.4,350.3 277.6,356.0 277.3,356.9 277.9,358.7 278.9,360.0 280.3,361.1 280.9,361.2 289.4,360.2 290.1,359.8 290.9,358.7 291.4,357.4 291.3,356.3 287.0,350.6 286.4,350.3Z" fill="#eaeaf4" opacity="0.9"/>
<path d="M291.1,356.4 290.0,359.2 289.9,361.2 292.0,366.7 292.5,367.5 293.9,368.5 295.2,369.1 296.1,369.0 302.6,365.6 303.1,364.9 304.3,358.6 304.1,357.8 300.7,353.7 300.2,353.4 299.6,353.4 291.7,355.9Z" fill="#eaeaf4" opacity="0.9"/>
<path d="M279.9,361.5 278.8,363.7 278.6,365.2 278.8,366.9 279.4,368.3 280.2,369.5 281.3,370.6 282.6,371.3 283.7,371.4 291.4,367.2 291.9,366.7 291.9,366.0 290.0,360.7 289.6,360.2 288.9,360.1 280.6,361.0Z" fill="#eaeaf4" opacity="0.9"/>
<path d="M308.0,358.3 306.8,357.9 305.8,357.8 304.7,357.9 304.1,358.7 303.0,364.5 303.1,365.2 303.6,365.6 306.1,366.5 306.8,366.5 307.3,366.0 309.5,360.4 309.3,359.4Z" fill="#eaeaf4" opacity="0.9"/>
<path d="M310.4,358.8 309.7,359.4 307.0,366.3 307.0,367.2 309.3,371.4 310.2,372.1 311.6,372.7 313.1,372.9 314.8,372.7 315.6,372.2 319.7,365.5 319.8,364.4 319.5,363.8 313.9,358.3 313.0,358.1 311.6,358.3Z" fill="#eaeaf4" opacity="0.9"/>
<path d="M295.8,368.5 294.0,367.4 292.3,366.9 291.5,367.0 283.0,371.5 282.5,372.1 282.2,372.9 282.0,374.5 282.2,376.3 282.8,377.9 284.0,379.6 285.3,380.9 287.0,381.8 288.7,382.3 290.4,382.5 292.3,382.3 294.0,381.8 295.7,380.9 297.0,379.6 298.2,377.9 298.5,376.6 296.4,369.2Z" fill="#eaeaf4" opacity="0.9"/>
<path d="M298.1,375.9 298.5,376.5 299.6,377.1 301.1,377.7 302.2,377.8 303.0,377.5 308.9,371.7 309.2,371.2 309.1,370.5 307.2,367.0 306.6,366.5 303.4,365.3 302.5,365.4 296.8,368.4 296.4,368.9 296.3,369.6Z" fill="#eaeaf4" opacity="0.9"/>
<path d="M331.1,370.0 330.6,368.2 329.6,366.7 328.2,365.2 326.9,364.3 325.3,363.7 323.5,363.5 321.7,363.7 320.5,364.1 320.0,364.5 315.7,371.6 315.7,373.6 316.2,375.2 317.2,376.7 318.4,378.0 319.9,379.1 321.7,379.7 323.3,379.9 325.1,379.7 326.9,379.1 328.4,378.0 329.6,376.7 330.6,375.2 331.1,373.4 331.3,371.8Z" fill="#eaeaf4" opacity="0.9"/>
<path d="M317.5,377.0 316.8,375.2 315.9,373.9 314.6,372.8 313.1,371.9 311.6,371.5 309.4,371.3 308.8,371.6 302.2,378.0 301.9,378.8 302.1,380.0 302.8,381.8 303.7,383.1 305.0,384.2 306.5,385.1 308.2,385.6 309.7,385.7 311.4,385.6 313.1,385.1 314.6,384.2 316.0,382.9 316.8,381.8 317.5,380.2 317.7,378.6Z" fill="#eaeaf4" opacity="0.9"/>
<path d="M272.2,345.2 271.6,343.3 270.4,342.1 268.8,341.6 267.3,342.2 266.3,343.5 265.8,345.2 266.0,347.7 266.8,349.2 267.6,349.9 268.8,350.4 269.7,350.3 270.7,349.8 271.2,349.2 272.0,347.9Z" fill="#eaeaf4" opacity="0.9"/>
<path d="M310.4,342.4 310.3,341.4 309.5,340.0 308.5,339.1 306.9,338.7 305.9,338.8 304.5,339.6 303.5,340.8 303.2,342.2 303.3,343.2 304.1,344.6 305.3,345.6 306.7,345.9 307.7,345.8 309.1,345.0 310.1,343.8Z" fill="#eaeaf4" opacity="0.9"/>
<path d="M281.0,361.7 280.8,360.4 280.3,359.6 279.2,358.8 278.1,358.6 277.2,358.7 276.0,359.3 275.3,360.2 275.0,361.5 275.2,362.8 275.7,363.6 276.6,364.3 277.9,364.6 279.2,364.4 280.0,363.9 280.7,363.0Z" fill="#eaeaf4" opacity="0.9"/>
<path d="M276.1,313.3 274.7,312.6 273.2,312.4 271.7,312.6 270.3,313.3 269.0,314.3 267.9,315.6 267.1,317.3 266.6,319.1 266.4,321.0 266.6,322.9 267.1,324.7 267.7,325.9 273.7,328.5 277.6,327.5 277.7,327.3 279.3,317.3 278.5,315.6 277.4,314.3Z" fill="url(#gp)" stroke="#74649a" stroke-width="0.6" stroke-opacity="0.8"/>
<path d="M289.3,317.9 288.4,316.7 287.2,315.8 286.0,315.2 284.7,315.0 283.4,315.2 282.2,315.8 281.2,316.5 279.6,326.7 280.1,327.7 280.5,328.1 285.2,330.5 286.0,330.4 287.2,329.8 288.4,328.9 289.3,327.7 289.7,326.8 290.3,320.7 290.0,319.4Z" fill="url(#gp)" stroke="#74649a" stroke-width="0.6" stroke-opacity="0.8"/>
<path d="M301.1,319.0 299.8,318.2 298.4,317.7 296.9,317.6 295.4,317.7 294.0,318.2 292.7,319.0 292.2,319.4 291.4,327.6 291.5,327.8 299.5,329.9 299.8,329.8 301.1,329.0 302.1,328.0 302.9,326.9 302.9,321.2 302.1,320.0Z" fill="url(#gp)" stroke="#74649a" stroke-width="0.6" stroke-opacity="0.8"/>
<path d="M319.2,321.0 318.2,319.6 316.9,318.4 315.4,317.6 313.6,317.0 311.8,316.9 310.0,317.0 308.2,317.6 306.7,318.4 305.4,319.6 304.7,320.5 304.7,327.0 314.6,330.8 315.4,330.6 316.9,329.8 318.2,328.6 319.2,327.2 319.8,325.7 320.0,324.1 319.8,322.5Z" fill="url(#gp)" stroke="#74649a" stroke-width="0.6" stroke-opacity="0.8"/>
<path d="M271.6,329.5 271.5,329.5 266.6,327.4 266.4,327.6 265.8,328.5 265.4,329.5 265.2,330.7 265.1,332.0 265.2,333.3 265.4,334.5 265.8,335.5 266.4,336.4 267.0,337.1 267.7,337.5 271.8,330.7Z" fill="url(#gp)" stroke="#74649a" stroke-width="0.6" stroke-opacity="0.8"/>
<path d="M281.1,330.5 279.3,329.9 277.4,329.7 275.5,329.9 274.1,330.4 269.1,338.7 269.1,339.0 269.8,340.6 270.8,342.0 272.1,343.2 273.3,343.9 282.9,343.0 284.0,342.0 284.7,341.1 284.5,333.3 284.0,332.6 282.7,331.4Z" fill="url(#gp)" stroke="#74649a" stroke-width="0.6" stroke-opacity="0.8"/>
<path d="M299.4,331.7 290.7,329.4 290.1,329.7 288.6,330.6 287.4,331.9 286.5,333.4 286.3,333.9 286.5,340.4 287.4,341.9 288.4,342.9 298.6,342.9 299.6,341.9 300.5,340.4 301.1,338.7 301.1,338.3 300.0,332.5 299.6,331.9Z" fill="url(#gp)" stroke="#74649a" stroke-width="0.6" stroke-opacity="0.8"/>
<path d="M304.8,329.1 303.4,329.8 302.2,330.6 301.6,331.3 302.9,337.9 303.4,338.2 304.8,338.9 306.3,339.3 308.0,339.4 309.7,339.3 310.3,339.1 315.4,333.4 315.3,333.0 305.0,329.1Z" fill="url(#gp)" stroke="#74649a" stroke-width="0.6" stroke-opacity="0.8"/>
<path d="M323.3,338.2 322.1,337.2 320.7,336.4 319.2,335.9 317.5,335.7 315.8,335.9 315.4,336.0 310.1,342.1 310.0,342.4 310.2,343.9 315.1,348.7 315.8,348.9 316.7,349.0 323.1,346.7 323.3,346.6 324.2,345.3 324.8,343.9 325.0,342.4 324.8,340.9 324.2,339.5Z" fill="url(#gp)" stroke="#74649a" stroke-width="0.6" stroke-opacity="0.8"/>
<path d="M342.7,344.2 342.5,342.4 341.9,340.6 341.0,339.1 339.7,337.8 338.2,336.8 336.6,336.2 334.8,336.0 333.0,336.2 331.4,336.8 329.9,337.8 328.6,339.1 327.7,340.6 327.1,342.4 326.9,344.2 327.1,346.0 327.7,347.8 328.6,349.3 329.9,350.6 331.4,351.6 333.0,352.2 334.8,352.4 336.6,352.2 338.2,351.6 339.7,350.6 341.0,349.3 341.9,347.8 342.5,346.0Z" fill="url(#gp)" stroke="#74649a" stroke-width="0.6" stroke-opacity="0.8"/>
<path d="M283.7,345.7 282.7,344.9 282.6,344.8 273.8,345.7 272.2,350.7 272.5,351.5 273.3,352.5 274.3,353.3 275.6,354.0 277.0,354.4 278.2,354.5 285.1,348.7 285.0,347.9 284.5,346.7Z" fill="url(#gp)" stroke="#74649a" stroke-width="0.6" stroke-opacity="0.8"/>
<path d="M299.2,345.4 298.3,344.7 288.7,344.7 287.8,345.4 287.0,346.6 286.4,347.8 286.3,348.5 291.0,354.6 291.9,354.8 292.3,354.9 299.2,352.7 300.0,351.6 300.6,350.4 300.7,349.1 300.6,347.8 300.0,346.6Z" fill="url(#gp)" stroke="#74649a" stroke-width="0.6" stroke-opacity="0.8"/>
<path d="M309.4,345.6 308.0,345.4 306.6,345.6 305.2,346.1 304.0,346.9 303.0,347.9 302.2,349.2 301.7,350.6 301.6,352.1 301.7,353.6 301.8,353.8 305.4,358.2 306.6,358.6 308.0,358.8 309.4,358.6 310.8,358.1 312.0,357.3 312.8,356.5 314.3,351.2 314.3,350.6 314.2,350.2Z" fill="url(#gp)" stroke="#74649a" stroke-width="0.6" stroke-opacity="0.8"/>
<path d="M327.1,349.8 325.6,348.8 324.2,348.2 316.3,351.0 316.3,351.1 316.2,351.2 314.7,356.6 314.8,358.0 314.9,358.2 321.1,364.3 322.3,364.4 324.0,364.2 325.6,363.6 327.1,362.6 328.3,361.3 328.4,361.1 329.9,355.0 329.8,354.4 329.2,352.6 328.3,351.1Z" fill="url(#gp)" stroke="#74649a" stroke-width="0.6" stroke-opacity="0.8"/>
<path d="M341.4,358.0 341.0,356.7 340.3,355.5 339.4,354.5 338.4,353.8 337.2,353.3 335.9,353.2 334.6,353.3 333.4,353.8 332.4,354.5 331.6,355.4 330.4,360.7 330.4,360.8 330.8,362.1 331.5,363.3 332.4,364.3 333.4,365.0 334.6,365.5 335.9,365.6 337.2,365.5 338.4,365.0 339.4,364.3 340.3,363.3 341.0,362.1 341.4,360.8 341.6,359.4Z" fill="url(#gp)" stroke="#74649a" stroke-width="0.6" stroke-opacity="0.8"/>
<path d="M276.0,358.6 275.9,357.6 275.6,356.7 275.0,355.9 274.3,355.2 273.5,354.6 272.5,354.3 271.5,354.2 270.5,354.3 269.5,354.6 268.7,355.2 268.0,355.9 267.4,356.7 267.1,357.6 267.0,358.6 267.1,359.6 267.4,360.5 268.0,361.3 268.7,362.0 269.5,362.6 270.5,362.9 271.5,363.0 272.5,362.9 273.5,362.6 274.3,362.0 275.0,361.3 275.6,360.5 275.9,359.6Z" fill="url(#gp)" stroke="#74649a" stroke-width="0.6" stroke-opacity="0.8"/>
<path d="M285.0,351.1 278.3,356.8 278.3,357.2 278.8,358.3 279.5,359.3 280.5,360.1 280.8,360.2 289.3,359.2 290.0,358.3 290.5,357.2 290.5,356.9 286.2,351.3 285.8,351.1Z" fill="url(#gp)" stroke="#74649a" stroke-width="0.6" stroke-opacity="0.8"/>
<path d="M291.5,357.8 291.0,359.3 290.9,360.8 292.9,366.4 293.3,366.8 294.5,367.7 295.6,368.2 302.1,364.7 303.3,358.4 299.9,354.3 292.0,356.9Z" fill="url(#gp)" stroke="#74649a" stroke-width="0.6" stroke-opacity="0.8"/>
<path d="M280.2,362.8 279.8,364.0 279.6,365.3 279.8,366.6 280.2,367.8 280.9,368.8 281.8,369.7 283.0,370.4 283.3,370.5 291.0,366.3 289.0,361.0 280.7,362.0Z" fill="url(#gp)" stroke="#74649a" stroke-width="0.6" stroke-opacity="0.8"/>
<path d="M307.5,359.1 306.7,358.9 305.9,358.8 305.1,358.9 305.1,358.9 304.0,364.7 306.4,365.6 308.6,360.1 308.2,359.6Z" fill="url(#gp)" stroke="#74649a" stroke-width="0.6" stroke-opacity="0.8"/>
<path d="M310.7,359.7 310.7,359.7 307.9,366.7 310.2,370.9 310.7,371.3 311.9,371.8 313.2,371.9 314.5,371.8 314.7,371.7 318.8,365.0 318.8,364.5 313.2,359.1 311.9,359.2Z" fill="url(#gp)" stroke="#74649a" stroke-width="0.6" stroke-opacity="0.8"/>
<path d="M295.1,369.2 293.7,368.4 292.2,367.9 292.0,367.9 283.5,372.4 283.2,373.1 283.0,374.6 283.2,376.1 283.8,377.6 284.7,378.9 285.9,380.0 287.3,380.8 288.8,381.3 290.5,381.5 292.2,381.3 293.7,380.8 295.1,380.0 296.3,378.9 297.2,377.6 297.5,376.8 295.5,369.5Z" fill="url(#gp)" stroke="#74649a" stroke-width="0.6" stroke-opacity="0.8"/>
<path d="M299.0,375.6 300.2,376.3 301.4,376.7 302.3,376.8 308.2,371.0 306.3,367.5 303.0,366.3 297.3,369.3Z" fill="url(#gp)" stroke="#74649a" stroke-width="0.6" stroke-opacity="0.8"/>
<path d="M330.1,370.1 329.6,368.6 328.8,367.2 327.7,366.0 326.4,365.2 324.9,364.6 323.4,364.5 321.9,364.6 320.9,365.0 316.6,372.1 316.7,373.3 317.2,374.8 318.0,376.2 319.1,377.4 320.4,378.2 321.9,378.8 323.4,378.9 324.9,378.8 326.4,378.2 327.7,377.4 328.8,376.2 329.6,374.8 330.1,373.3 330.3,371.7Z" fill="url(#gp)" stroke="#74649a" stroke-width="0.6" stroke-opacity="0.8"/>
<path d="M316.5,377.1 316.0,375.8 315.2,374.6 314.1,373.6 312.8,372.9 311.3,372.4 309.8,372.3 309.5,372.3 302.9,378.7 303.1,379.9 303.6,381.2 304.4,382.4 305.5,383.4 306.8,384.1 308.3,384.6 309.8,384.7 311.3,384.6 312.8,384.1 314.1,383.4 315.2,382.4 316.0,381.2 316.5,379.9 316.7,378.5Z" fill="url(#gp)" stroke="#74649a" stroke-width="0.6" stroke-opacity="0.8"/>
<path d="M271.2,345.2 271.0,344.5 270.8,343.9 270.4,343.3 270.0,342.9 269.5,342.7 269.0,342.6 268.5,342.7 268.0,342.9 267.6,343.3 267.2,343.9 267.0,344.5 266.8,345.2 266.7,346.0 266.8,346.8 267.0,347.5 267.2,348.1 267.6,348.7 268.0,349.1 268.5,349.3 269.0,349.4 269.5,349.3 270.0,349.1 270.4,348.7 270.8,348.1 271.0,347.5 271.2,346.8 271.3,346.0Z" fill="url(#gp)" stroke="#74649a" stroke-width="0.6" stroke-opacity="0.8"/>
<path d="M309.4,342.3 309.3,341.7 309.1,341.2 308.8,340.7 308.4,340.3 307.9,340.0 307.4,339.8 306.8,339.7 306.2,339.8 305.7,340.0 305.2,340.3 304.8,340.7 304.5,341.2 304.3,341.7 304.2,342.3 304.3,342.9 304.5,343.4 304.8,343.9 305.2,344.3 305.7,344.6 306.2,344.8 306.8,344.9 307.4,344.8 307.9,344.6 308.4,344.3 308.8,343.9 309.1,343.4 309.3,342.9Z" fill="url(#gR)" stroke="#5a2018" stroke-width="0.6" stroke-opacity="0.8"/>
<path d="M280.0,361.6 280.0,361.1 279.8,360.7 279.6,360.3 279.3,360.0 278.9,359.8 278.5,359.6 278.0,359.6 277.5,359.6 277.1,359.8 276.7,360.0 276.4,360.3 276.2,360.7 276.0,361.1 276.0,361.6 276.0,362.1 276.2,362.5 276.4,362.9 276.7,363.2 277.1,363.4 277.5,363.6 278.0,363.6 278.5,363.6 278.9,363.4 279.3,363.2 279.6,362.9 279.8,362.5 280.0,362.1Z" fill="url(#gV)" stroke="#4c3c90" stroke-width="0.6" stroke-opacity="0.8"/>
</g>
<path d="M315.9,381.6H339.1" stroke="#182024" stroke-width="1.7"/>
</g>
<g clip-path="url(#ci2)">
<rect x="356.2" y="311.1" width="74.8" height="75.4" fill="#bbcdcd"/>
<g filter="url(#cb)">
<path d="M369.7,316.3 369.1,314.6 368.2,313.3 367.0,312.2 365.7,311.4 364.1,310.9 362.7,310.7 361.1,310.9 359.5,311.4 358.2,312.2 356.8,313.5 356.1,314.6 355.5,316.1 355.3,317.7 355.5,319.3 356.1,321.0 357.0,322.3 358.2,323.4 359.5,324.2 360.9,324.7 362.9,324.9 368.9,321.0 369.7,319.3 369.9,317.9Z" fill="#dce4e8" opacity="0.9"/>
<path d="M378.1,327.1 377.4,325.2 376.3,323.6 375.0,322.4 373.4,321.4 371.9,320.9 369.2,320.7 362.7,324.9 362.3,325.4 361.7,327.1 361.6,328.7 361.7,330.5 362.4,332.4 363.5,334.0 364.8,335.2 366.4,336.2 368.2,336.8 369.8,336.9 371.6,336.8 373.4,336.2 375.0,335.2 376.5,333.8 377.4,332.4 378.0,330.7 378.2,328.9Z" fill="#dce4e8" opacity="0.9"/>
<path d="M393.9,317.6 393.7,316.0 393.3,314.5 392.4,313.0 391.3,311.9 390.0,311.1 388.8,310.6 387.3,310.4 385.6,310.6 384.2,311.2 382.9,312.1 381.9,313.2 381.1,314.5 380.5,317.4 380.7,319.0 381.1,320.5 382.0,322.0 383.1,323.1 384.4,323.9 385.6,324.4 387.1,324.6 388.8,324.4 390.2,323.8 391.5,322.9 392.5,321.8 393.3,320.5Z" fill="#dce4e8" opacity="0.9"/>
<path d="M408.2,319.1 407.8,317.4 407.0,315.9 406.0,314.6 404.8,313.6 403.4,312.9 401.8,312.7 400.0,312.9 398.6,313.6 397.4,314.6 396.4,315.9 395.6,317.4 395.2,319.1 395.0,320.9 395.2,322.7 395.7,324.3 396.5,325.9 397.4,326.6 405.3,327.2 406.2,326.8 407.0,325.7 407.8,324.2 408.2,322.5Z" fill="#dce4e8" opacity="0.9"/>
<path d="M406.1,328.9 405.3,327.3 404.6,326.9 398.1,326.4 397.1,326.9 396.3,327.9 395.8,329.7 395.9,330.7 396.4,331.9 397.9,333.4 399.8,334.1 402.0,334.2 404.1,333.4 405.1,332.6 406.1,330.7Z" fill="#dce4e8" opacity="0.9"/>
<path d="M408.8,339.1 408.2,337.5 407.3,336.3 406.2,335.3 404.8,334.5 403.4,334.1 400.4,334.1 399.0,334.5 397.6,335.3 396.3,336.4 395.5,337.7 395.0,339.1 394.8,340.3 395.0,341.7 395.8,343.4 400.7,346.6 401.8,346.9 403.4,346.7 404.8,346.3 406.2,345.5 407.5,344.4 408.3,343.1 408.8,341.7 409.0,340.5Z" fill="#dce4e8" opacity="0.9"/>
<path d="M401.7,347.3 401.3,346.8 396.0,343.3 395.3,343.1 394.1,343.3 392.7,343.8 391.2,344.7 390.1,345.8 389.3,347.2 388.9,348.7 388.7,350.2 388.9,351.8 389.4,353.2 390.3,354.5 391.4,355.6 393.9,356.9 395.6,357.1 398.3,356.4 399.8,355.5 400.8,354.2 402.0,348.8Z" fill="#dce4e8" opacity="0.9"/>
<path d="M414.9,351.3 414.4,349.7 413.6,348.2 412.3,346.8 411.1,346.0 409.6,345.4 407.9,345.2 406.3,345.4 404.5,346.0 403.3,346.8 402.2,348.0 400.7,354.0 400.7,354.7 401.2,356.1 402.0,357.6 403.1,358.8 404.5,359.8 406.3,360.4 407.7,360.6 409.3,360.4 411.1,359.8 412.5,358.8 413.6,357.6 414.4,356.1 414.9,354.5 415.1,353.0Z" fill="#dce4e8" opacity="0.9"/>
<path d="M423.0,348.6 420.1,347.7 418.6,347.8 416.5,348.9 414.9,350.9 414.3,353.5 414.8,356.1 416.3,358.1 417.6,359.0 419.9,359.5 421.2,359.4 423.0,358.6 423.5,357.8 423.5,349.4Z" fill="#dce4e8" opacity="0.9"/>
<path d="M432.5,352.4 432.0,350.9 431.3,349.8 429.2,348.2 426.7,347.7 425.4,347.8 423.7,348.6 423.3,349.4 423.3,357.8 423.7,358.6 425.4,359.4 426.9,359.5 428.2,359.4 430.4,358.3 431.3,357.4 432.1,356.1 432.5,354.8Z" fill="#dce4e8" opacity="0.9"/>
<path d="M383.5,352.7 382.7,350.5 381.5,348.8 380.0,347.4 378.1,346.4 376.1,345.7 374.2,345.5 372.1,345.7 370.1,346.4 368.2,347.4 366.5,349.0 365.5,350.5 364.8,352.5 364.5,354.5 364.7,356.5 365.5,358.7 366.7,360.4 368.2,361.8 370.1,362.8 372.1,363.5 374.0,363.7 376.1,363.5 378.0,362.9 378.5,362.5 383.5,355.5 383.7,354.5Z" fill="#dce4e8" opacity="0.9"/>
<path d="M394.9,361.6 394.2,359.7 393.1,358.1 391.7,356.8 390.1,355.8 388.3,355.2 386.6,355.1 384.7,355.2 382.8,356.1 378.1,362.7 377.9,363.3 378.1,365.2 378.8,367.1 379.9,368.7 381.3,370.0 382.9,371.0 384.7,371.6 386.4,371.7 388.3,371.6 390.1,371.0 391.7,370.0 393.3,368.5 394.2,367.1 394.8,365.4 395.1,363.5Z" fill="#dce4e8" opacity="0.9"/>
<path d="M372.2,367.5 371.4,365.9 370.3,364.7 369.0,363.8 367.4,363.1 365.7,362.7 362.3,362.7 360.6,363.1 359.0,363.8 357.5,364.9 356.6,365.9 355.9,367.2 355.7,369.0 355.9,370.4 356.6,371.7 357.1,372.1 365.9,374.9 367.6,374.4 369.2,373.7 370.3,372.9 371.4,371.7 372.2,370.1 372.3,369.0Z" fill="#dce4e8" opacity="0.9"/>
<path d="M366.6,379.2 366.4,375.5 365.8,374.8 358.1,372.2 357.5,372.2 356.4,373.3 355.4,376.2 355.4,379.2 356.4,382.1 357.4,383.4 359.5,384.7 361.1,385.0 362.5,384.7 363.5,384.3 364.7,383.2 366.2,380.9Z" fill="#dce4e8" opacity="0.9"/>
<path d="M392.0,380.8 391.8,378.9 391.2,377.4 390.2,376.0 388.9,374.9 387.4,374.1 385.7,373.6 384.1,373.4 382.3,373.6 380.6,374.1 378.9,375.0 377.8,376.0 376.8,377.4 376.2,378.9 376.0,380.6 376.2,382.5 376.8,384.0 377.8,385.4 379.1,386.5 380.6,387.3 382.3,387.8 383.9,388.0 385.7,387.8 387.4,387.3 389.1,386.4 390.2,385.4 391.2,384.0 391.8,382.5Z" fill="#dce4e8" opacity="0.9"/>
<path d="M422.0,376.2 421.8,374.5 421.2,373.1 420.2,371.8 419.0,370.8 417.6,370.0 414.6,369.4 413.0,369.6 411.4,370.0 409.8,370.9 408.6,372.0 407.7,373.3 407.2,374.5 407.0,376.0 407.2,377.7 407.8,379.1 408.8,380.4 410.0,381.4 411.4,382.2 414.4,382.8 416.0,382.6 417.6,382.2 419.2,381.3 420.4,380.2 421.3,378.9 421.8,377.7Z" fill="#dce4e8" opacity="0.9"/>
<path d="M415.1,387.6 414.9,386.2 414.4,385.1 413.6,384.1 411.6,382.8 409.0,382.3 406.4,382.8 405.0,383.4 403.3,385.3 402.7,387.4 402.9,388.8 403.4,389.9 404.2,390.9 406.2,392.2 408.8,392.7 411.4,392.2 412.8,391.6 414.5,389.7Z" fill="#dce4e8" opacity="0.9"/>
<path d="M433.9,360.9 433.7,359.2 432.9,357.8 432.2,357.1 431.0,356.7 429.9,356.8 428.8,357.6 428.2,358.4 427.8,360.0 427.8,361.7 428.3,363.3 429.4,364.5 430.6,364.9 431.7,364.8 432.9,363.8 433.6,362.6Z" fill="#dce4e8" opacity="0.9"/>
<path d="M429.5,360.4 429.0,359.0 427.7,358.4 426.3,358.9 425.7,360.2 426.2,361.6 427.5,362.2 428.9,361.7Z" fill="#dce4e8" opacity="0.9"/>
<path d="M368.7,316.4 368.3,315.2 367.5,314.0 366.5,313.0 365.3,312.3 364.0,311.9 362.6,311.7 361.2,311.9 359.9,312.3 358.7,313.0 357.7,314.0 356.9,315.2 356.5,316.4 356.3,317.8 356.5,319.2 356.9,320.4 357.7,321.6 358.7,322.6 359.9,323.3 361.2,323.7 362.6,323.9 362.8,323.9 368.4,320.2 368.7,319.2 368.9,317.8Z" fill="url(#gQ)" stroke="#6e6282" stroke-width="0.6" stroke-opacity="0.8"/>
<path d="M377.1,327.2 376.5,325.7 375.6,324.3 374.5,323.2 373.1,322.4 371.5,321.8 369.9,321.7 369.3,321.7 363.3,325.7 362.7,327.2 362.6,328.8 362.7,330.4 363.3,331.9 364.2,333.3 365.3,334.4 366.7,335.2 368.3,335.8 369.9,335.9 371.5,335.8 373.1,335.2 374.5,334.4 375.6,333.3 376.5,331.9 377.1,330.4 377.3,328.8Z" fill="url(#gq)" stroke="#766694" stroke-width="0.6" stroke-opacity="0.8"/>
<path d="M392.9,317.5 392.7,316.1 392.3,314.9 391.6,313.7 390.7,312.7 389.7,312.0 388.5,311.6 387.2,311.4 385.9,311.6 384.7,312.0 383.7,312.7 382.8,313.7 382.1,314.9 381.7,316.1 381.5,317.5 381.7,318.9 382.1,320.1 382.8,321.3 383.7,322.3 384.7,323.0 385.9,323.4 387.2,323.6 388.5,323.4 389.7,323.0 390.7,322.3 391.6,321.3 392.3,320.1 392.7,318.9Z" fill="url(#gq)" stroke="#766694" stroke-width="0.6" stroke-opacity="0.8"/>
<path d="M407.2,319.2 406.8,317.7 406.1,316.3 405.2,315.2 404.2,314.4 403.0,313.8 401.7,313.7 400.4,313.8 399.2,314.4 398.2,315.2 397.3,316.3 396.6,317.7 396.2,319.2 396.0,320.8 396.2,322.4 396.6,323.9 397.3,325.3 397.5,325.6 405.4,326.2 406.1,325.3 406.8,323.9 407.2,322.4 407.4,320.8Z" fill="url(#gq)" stroke="#766694" stroke-width="0.6" stroke-opacity="0.8"/>
<path d="M405.1,329.0 404.8,328.3 404.5,327.9 398.0,327.4 397.7,327.6 397.2,328.3 396.9,329.0 396.8,329.8 396.9,330.6 397.2,331.3 397.7,332.0 398.4,332.5 399.2,332.9 400.1,333.2 401.0,333.3 401.9,333.2 402.8,332.9 403.6,332.5 404.3,332.0 404.8,331.3 405.1,330.6 405.2,329.8Z" fill="url(#gQ)" stroke="#6e6282" stroke-width="0.6" stroke-opacity="0.8"/>
<path d="M407.8,339.2 407.4,338.0 406.7,337.0 405.7,336.1 404.5,335.5 403.3,335.1 401.9,334.9 400.5,335.1 399.3,335.5 398.1,336.1 397.1,337.0 396.4,338.0 396.0,339.2 395.8,340.4 396.0,341.6 396.3,342.5 401.3,345.8 401.9,345.9 403.3,345.7 404.5,345.3 405.7,344.7 406.7,343.8 407.4,342.8 407.8,341.6 408.0,340.4Z" fill="url(#gq)" stroke="#766694" stroke-width="0.6" stroke-opacity="0.8"/>
<path d="M400.7,347.6 395.5,344.1 394.2,344.3 393.0,344.7 391.9,345.4 391.0,346.4 390.3,347.5 389.9,348.8 389.7,350.1 389.9,351.4 390.3,352.7 391.0,353.8 391.9,354.8 393.0,355.5 394.2,355.9 395.5,356.1 396.8,355.9 398.0,355.5 399.1,354.8 399.8,354.0 401.1,348.6Z" fill="url(#gq)" stroke="#766694" stroke-width="0.6" stroke-opacity="0.8"/>
<path d="M413.9,351.4 413.5,350.0 412.7,348.7 411.7,347.6 410.5,346.8 409.2,346.3 407.8,346.2 406.4,346.3 405.1,346.8 403.9,347.6 402.9,348.7 401.6,354.2 401.7,354.4 402.1,355.8 402.9,357.1 403.9,358.2 405.1,359.0 406.4,359.5 407.8,359.6 409.2,359.5 410.5,359.0 411.7,358.2 412.7,357.1 413.5,355.8 413.9,354.4 414.1,352.9Z" fill="url(#gq)" stroke="#766694" stroke-width="0.6" stroke-opacity="0.8"/>
<path d="M422.1,349.2 421.1,348.8 420.0,348.7 418.9,348.8 417.9,349.2 417.1,349.7 416.3,350.5 415.7,351.5 415.4,352.5 415.3,353.6 415.4,354.7 415.7,355.7 416.3,356.7 417.1,357.5 417.9,358.0 418.9,358.4 420.0,358.5 421.1,358.4 422.1,358.0 422.5,357.8 422.5,349.4Z" fill="url(#gQ)" stroke="#6e6282" stroke-width="0.6" stroke-opacity="0.8"/>
<path d="M431.5,352.5 431.2,351.5 430.6,350.5 429.8,349.7 428.9,349.2 427.9,348.8 426.8,348.7 425.7,348.8 424.7,349.2 424.3,349.4 424.3,357.8 424.7,358.0 425.7,358.4 426.8,358.5 427.9,358.4 428.9,358.0 429.8,357.5 430.6,356.7 431.2,355.7 431.5,354.7 431.6,353.6Z" fill="url(#gq)" stroke="#766694" stroke-width="0.6" stroke-opacity="0.8"/>
<path d="M382.5,352.8 381.9,351.1 380.8,349.6 379.5,348.3 377.8,347.3 376.0,346.7 374.1,346.5 372.2,346.7 370.4,347.3 368.7,348.3 367.4,349.6 366.3,351.1 365.7,352.8 365.5,354.6 365.7,356.4 366.3,358.1 367.4,359.6 368.7,360.9 370.4,361.9 372.2,362.5 374.1,362.7 376.0,362.5 377.7,361.9 382.7,354.9 382.7,354.6Z" fill="url(#gq)" stroke="#766694" stroke-width="0.6" stroke-opacity="0.8"/>
<path d="M393.9,361.8 393.3,360.2 392.4,358.8 391.2,357.7 389.8,356.8 388.2,356.2 386.5,356.0 384.8,356.2 383.7,356.6 379.0,363.2 378.9,363.4 379.1,365.0 379.7,366.6 380.6,368.0 381.8,369.1 383.2,370.0 384.8,370.6 386.5,370.8 388.2,370.6 389.8,370.0 391.2,369.1 392.4,368.0 393.3,366.6 393.9,365.0 394.1,363.4Z" fill="url(#gq)" stroke="#766694" stroke-width="0.6" stroke-opacity="0.8"/>
<path d="M371.2,367.6 370.6,366.5 369.7,365.5 368.6,364.7 367.2,364.1 365.6,363.7 364.0,363.5 362.4,363.7 360.8,364.1 359.4,364.7 358.3,365.5 357.4,366.5 356.8,367.6 356.7,368.8 356.8,370.0 357.4,371.1 357.4,371.1 365.7,373.9 367.2,373.5 368.6,372.9 369.7,372.1 370.6,371.1 371.2,370.0 371.3,368.8Z" fill="url(#gQ)" stroke="#6e6282" stroke-width="0.6" stroke-opacity="0.8"/>
<path d="M365.6,376.3 365.5,375.7 357.8,373.1 357.3,373.8 356.7,375.0 356.4,376.3 356.3,377.7 356.4,379.1 356.7,380.4 357.3,381.6 358.1,382.6 358.9,383.4 359.9,383.8 361.0,384.0 362.1,383.8 363.1,383.4 363.9,382.6 364.7,381.6 365.3,380.4 365.6,379.1 365.7,377.7Z" fill="url(#gq)" stroke="#766694" stroke-width="0.6" stroke-opacity="0.8"/>
<path d="M391.0,380.7 390.9,379.3 390.3,378.0 389.5,376.8 388.4,375.8 387.1,375.0 385.6,374.6 384.0,374.4 382.4,374.6 380.9,375.0 379.6,375.8 378.5,376.8 377.7,378.0 377.1,379.3 377.0,380.7 377.1,382.1 377.7,383.4 378.5,384.6 379.6,385.6 380.9,386.4 382.4,386.8 384.0,387.0 385.6,386.8 387.1,386.4 388.4,385.6 389.5,384.6 390.3,383.4 390.9,382.1Z" fill="url(#gq)" stroke="#766694" stroke-width="0.6" stroke-opacity="0.8"/>
<path d="M421.0,376.1 420.8,374.8 420.4,373.6 419.6,372.6 418.6,371.7 417.3,371.0 415.9,370.6 414.5,370.4 413.1,370.6 411.7,371.0 410.4,371.7 409.4,372.6 408.6,373.6 408.2,374.8 408.0,376.1 408.2,377.4 408.6,378.6 409.4,379.6 410.4,380.5 411.7,381.2 413.1,381.6 414.5,381.8 415.9,381.6 417.3,381.2 418.6,380.5 419.6,379.6 420.4,378.6 420.8,377.4Z" fill="url(#gq)" stroke="#766694" stroke-width="0.6" stroke-opacity="0.8"/>
<path d="M414.2,387.5 414.0,386.6 413.6,385.7 413.0,384.9 412.2,384.2 411.2,383.7 410.1,383.4 408.9,383.3 407.7,383.4 406.6,383.7 405.6,384.2 404.8,384.9 404.2,385.7 403.8,386.6 403.7,387.5 403.8,388.4 404.2,389.3 404.8,390.1 405.6,390.8 406.6,391.3 407.7,391.6 408.9,391.7 410.1,391.6 411.2,391.3 412.2,390.8 413.0,390.1 413.6,389.3 414.0,388.4Z" fill="url(#gq)" stroke="#766694" stroke-width="0.6" stroke-opacity="0.8"/>
<path d="M432.9,360.8 432.8,360.1 432.7,359.4 432.4,358.8 432.1,358.3 431.7,358.0 431.3,357.7 430.8,357.6 430.3,357.7 429.9,358.0 429.5,358.3 429.2,358.8 428.9,359.4 428.8,360.1 428.7,360.8 428.8,361.5 428.9,362.2 429.2,362.8 429.5,363.3 429.9,363.6 430.3,363.9 430.8,363.9 431.3,363.9 431.7,363.6 432.1,363.3 432.4,362.8 432.7,362.2 432.8,361.5Z" fill="url(#gQ)" stroke="#6e6282" stroke-width="0.6" stroke-opacity="0.8"/>
<path d="M428.5,360.3 428.5,360.1 428.5,359.9 428.3,359.7 428.2,359.6 428.0,359.4 427.8,359.4 427.6,359.4 427.4,359.4 427.2,359.4 427.0,359.6 426.9,359.7 426.7,359.9 426.7,360.1 426.7,360.3 426.7,360.5 426.7,360.7 426.9,360.9 427.0,361.0 427.2,361.2 427.4,361.2 427.6,361.2 427.8,361.2 428.0,361.2 428.2,361.0 428.3,360.9 428.5,360.7 428.5,360.5Z" fill="url(#gV)" stroke="#4c3c90" stroke-width="0.6" stroke-opacity="0.8"/>
</g>
<path d="M403.9,381.8H426.6" stroke="#182024" stroke-width="1.7"/>
</g>
<g clip-path="url(#ci3)">
<rect x="444.2" y="311.1" width="74.8" height="75.5" fill="#bccfcc"/>
<g filter="url(#cb)">
<path d="M451.7,312.2 451.5,311.0 450.4,309.7 449.0,309.0 447.1,308.7 445.2,308.9 443.6,309.7 442.8,310.5 442.3,311.8 442.5,313.0 443.6,314.3 445.0,315.0 446.9,315.3 448.8,315.1 450.4,314.3 451.2,313.5Z" fill="#dce4e6" opacity="0.9"/>
<path d="M465.8,319.9 465.7,317.9 465.1,316.0 464.0,314.2 462.9,312.9 461.4,311.8 459.7,311.1 457.8,310.8 455.7,311.1 454.0,311.8 452.5,312.9 451.2,314.3 450.3,316.0 449.7,317.9 449.6,319.7 449.7,321.7 450.3,323.6 451.4,325.4 452.5,326.7 454.0,327.8 455.7,328.5 457.6,328.8 459.7,328.5 461.4,327.8 462.9,326.7 464.2,325.3 465.1,323.6 465.7,321.7Z" fill="#dce4e6" opacity="0.9"/>
<path d="M487.2,334.7 486.4,332.8 485.3,331.3 483.9,330.0 482.2,329.1 480.4,328.5 478.6,328.4 476.6,328.5 474.8,329.1 473.1,330.0 471.5,331.4 470.6,332.8 469.9,334.5 469.6,336.3 469.8,338.1 470.5,339.8 471.5,341.4 473.4,342.9 481.3,344.0 484.1,342.6 485.3,341.5 486.4,340.0 487.2,338.1 487.4,336.5Z" fill="#dce4e6" opacity="0.9"/>
<path d="M484.0,346.6 482.9,345.0 481.4,343.9 474.0,342.9 473.3,343.0 471.8,343.8 470.5,345.0 469.4,346.6 468.9,348.0 468.7,349.7 468.8,351.4 469.4,353.0 470.5,354.6 471.8,355.8 473.1,356.5 474.8,357.1 476.6,357.3 478.2,357.0 484.2,351.8 484.6,351.2 484.7,349.7 484.5,348.0Z" fill="#dce4e6" opacity="0.9"/>
<path d="M490.3,353.1 488.8,352.0 487.2,351.3 485.1,351.0 484.6,351.3 477.9,357.2 477.5,360.0 477.7,361.7 478.2,363.6 479.2,365.5 480.3,366.7 481.8,367.8 483.7,368.6 485.2,368.8 486.9,368.6 488.8,367.8 490.3,366.7 491.5,365.3 492.4,363.6 492.9,361.7 493.0,360.6 491.3,354.4Z" fill="#dce4e6" opacity="0.9"/>
<path d="M506.2,354.7 506.1,352.8 505.8,352.2 501.8,347.5 501.3,347.2 500.3,347.1 498.7,347.3 497.1,347.9 495.7,348.9 494.4,350.2 493.2,351.9 492.4,353.7 491.8,355.9 491.7,356.8 493.8,363.7 495.5,365.0 497.5,365.3 499.1,365.1 500.7,364.5 502.1,363.5 503.4,362.2 504.7,360.4 505.4,358.7 506.0,356.7Z" fill="#dce4e6" opacity="0.9"/>
<path d="M517.6,344.8 517.1,343.2 516.2,341.7 514.9,340.3 513.7,339.5 512.1,338.9 510.4,338.7 508.7,338.9 506.9,339.5 505.5,340.5 504.4,341.7 503.5,343.2 503.0,344.8 502.8,346.5 503.0,348.2 503.7,350.0 505.9,352.6 506.9,353.3 508.7,353.9 510.2,354.1 511.9,353.9 513.7,353.3 515.1,352.3 516.2,351.1 517.1,349.6 517.6,348.0 517.8,346.5Z" fill="#dce4e6" opacity="0.9"/>
<path d="M479.0,366.7 478.8,364.6 478.2,362.9 477.2,361.3 475.8,360.0 474.4,359.1 472.7,358.5 470.8,358.3 469.0,358.4 467.2,359.0 465.4,360.1 464.1,361.5 463.2,362.9 462.6,364.6 462.4,366.5 462.6,368.6 463.2,370.3 464.2,371.9 465.6,373.2 467.0,374.1 468.7,374.7 470.6,374.9 472.7,374.7 474.4,374.1 476.0,373.1 477.3,371.7 478.2,370.3 478.8,368.6Z" fill="#dce4e6" opacity="0.9"/>
<path d="M458.8,372.7 458.6,370.6 458.2,368.6 457.4,366.8 456.3,365.3 454.8,363.9 453.5,363.3 451.9,363.0 449.9,363.3 448.4,364.1 447.1,365.3 446.0,366.8 445.2,368.6 444.8,370.6 444.6,372.5 444.8,374.6 445.2,376.6 446.0,378.4 447.1,379.9 448.6,381.3 449.9,381.9 451.5,382.2 453.5,381.9 455.0,381.1 456.3,379.9 457.4,378.4 458.2,376.6 458.6,374.6Z" fill="#dce4e6" opacity="0.9"/>
<path d="M467.4,376.0 465.8,373.1 464.6,372.0 463.3,371.1 461.6,370.5 460.4,370.5 459.0,370.7 457.4,371.5 456.4,372.6 455.6,373.9 455.2,375.4 455.0,377.0 455.6,380.2 457.2,383.1 458.4,384.2 459.7,385.1 461.4,385.7 462.6,385.7 464.0,385.5 465.6,384.7 466.6,383.6 467.4,382.3 467.8,380.8 468.0,379.2Z" fill="#dce4e6" opacity="0.9"/>
<path d="M519.1,374.7 518.8,372.8 518.1,371.3 517.0,370.0 515.6,368.9 514.0,368.1 512.2,367.7 510.5,367.5 508.6,367.7 506.8,368.1 505.0,369.1 503.8,370.0 502.7,371.3 502.0,372.8 501.7,374.5 502.0,376.4 502.7,377.9 503.8,379.2 505.2,380.3 506.8,381.1 508.6,381.5 510.3,381.7 512.2,381.5 514.0,381.1 515.8,380.1 517.0,379.2 518.1,377.9 518.8,376.4Z" fill="#dce4e6" opacity="0.9"/>
<path d="M493.8,382.6 493.6,380.9 492.9,379.6 491.9,378.4 490.7,377.5 489.2,376.8 486.1,376.3 482.8,376.8 481.3,377.5 480.1,378.4 478.9,379.8 478.4,380.9 478.2,382.4 478.4,384.1 479.1,385.4 480.1,386.6 481.3,387.5 482.8,388.2 485.9,388.7 489.2,388.2 490.7,387.5 491.9,386.6 493.1,385.2 493.6,384.1Z" fill="#dce4e6" opacity="0.9"/>
<path d="M450.7,312.0 450.6,311.5 450.3,311.0 449.9,310.6 449.3,310.2 448.6,309.9 447.8,309.7 447.0,309.7 446.2,309.7 445.4,309.9 444.7,310.2 444.1,310.6 443.7,311.0 443.4,311.5 443.3,312.0 443.4,312.5 443.7,313.0 444.1,313.4 444.7,313.8 445.4,314.1 446.2,314.3 447.0,314.3 447.8,314.3 448.6,314.1 449.3,313.8 449.9,313.4 450.3,313.0 450.6,312.5Z" fill="url(#gV)" stroke="#4c3c90" stroke-width="0.6" stroke-opacity="0.8"/>
<path d="M464.8,319.8 464.7,318.0 464.1,316.3 463.3,314.8 462.2,313.6 460.8,312.6 459.3,312.0 457.7,311.8 456.1,312.0 454.6,312.6 453.2,313.6 452.1,314.8 451.3,316.3 450.7,318.0 450.6,319.8 450.7,321.6 451.3,323.3 452.1,324.8 453.2,326.0 454.6,327.0 456.1,327.6 457.7,327.8 459.3,327.6 460.8,327.0 462.2,326.0 463.3,324.8 464.1,323.3 464.7,321.6Z" fill="url(#gv)" stroke="#58489a" stroke-width="0.6" stroke-opacity="0.8"/>
<path d="M486.2,334.8 485.6,333.3 484.7,332.0 483.4,330.9 481.9,330.1 480.3,329.5 478.5,329.4 476.7,329.5 475.1,330.1 473.6,330.9 472.3,332.0 471.4,333.3 470.8,334.8 470.6,336.4 470.8,338.0 471.4,339.5 472.3,340.8 473.6,341.9 473.9,342.1 481.0,343.0 481.9,342.7 483.4,341.9 484.7,340.8 485.6,339.5 486.2,338.0 486.4,336.4Z" fill="url(#gv)" stroke="#58489a" stroke-width="0.6" stroke-opacity="0.8"/>
<path d="M483.0,347.0 482.2,345.7 481.2,344.9 473.9,343.9 473.6,343.9 472.3,344.7 471.2,345.7 470.4,347.0 469.8,348.4 469.7,349.8 469.8,351.2 470.4,352.6 471.2,353.9 472.3,354.9 473.6,355.7 475.1,356.1 476.7,356.3 477.5,356.2 483.6,351.1 483.7,349.8 483.6,348.4Z" fill="url(#gv)" stroke="#58489a" stroke-width="0.6" stroke-opacity="0.8"/>
<path d="M489.6,353.7 488.3,352.8 486.8,352.2 485.3,352.0 485.2,352.0 478.9,357.5 478.6,358.1 478.5,359.9 478.6,361.7 479.2,363.3 480.0,364.8 481.0,366.1 482.3,367.0 483.8,367.6 485.3,367.8 486.8,367.6 488.3,367.0 489.6,366.1 490.6,364.8 491.4,363.3 492.0,361.7 492.0,360.9 490.3,354.6Z" fill="url(#gv)" stroke="#58489a" stroke-width="0.6" stroke-opacity="0.8"/>
<path d="M505.2,354.6 505.1,352.9 505.1,352.8 501.1,348.2 500.4,348.0 499.0,348.2 497.6,348.8 496.3,349.7 495.1,350.9 494.1,352.4 493.3,354.2 492.8,356.0 492.7,356.6 494.5,363.1 494.8,363.4 496.0,364.1 497.4,364.4 498.8,364.2 500.2,363.6 501.5,362.7 502.7,361.5 503.7,360.0 504.5,358.2 505.0,356.4Z" fill="url(#gv)" stroke="#58489a" stroke-width="0.6" stroke-opacity="0.8"/>
<path d="M516.6,344.9 516.2,343.5 515.4,342.2 514.4,341.1 513.1,340.3 511.7,339.8 510.3,339.7 508.9,339.8 507.5,340.3 506.2,341.1 505.2,342.2 504.4,343.5 504.0,344.9 503.8,346.4 504.0,347.9 504.4,349.3 504.4,349.3 506.7,351.9 507.5,352.5 508.9,353.0 510.3,353.1 511.7,353.0 513.1,352.5 514.4,351.7 515.4,350.6 516.2,349.3 516.6,347.9 516.8,346.4Z" fill="url(#gv)" stroke="#58489a" stroke-width="0.6" stroke-opacity="0.8"/>
<path d="M478.1,366.6 477.9,365.0 477.3,363.4 476.4,362.0 475.3,360.9 473.9,360.0 472.3,359.4 470.7,359.2 469.1,359.4 467.5,360.0 466.1,360.9 465.0,362.0 464.1,363.4 463.5,365.0 463.3,366.6 463.5,368.2 464.1,369.8 465.0,371.2 466.1,372.3 467.5,373.2 469.1,373.8 470.7,374.0 472.3,373.8 473.9,373.2 475.3,372.3 476.4,371.2 477.3,369.8 477.9,368.2Z" fill="url(#gv)" stroke="#58489a" stroke-width="0.6" stroke-opacity="0.8"/>
<path d="M457.8,372.6 457.6,370.7 457.2,368.9 456.5,367.2 455.5,365.9 454.3,364.8 453.1,364.2 451.7,364.0 450.3,364.2 449.1,364.8 447.9,365.9 446.9,367.2 446.2,368.9 445.8,370.7 445.6,372.6 445.8,374.5 446.2,376.3 446.9,378.0 447.9,379.3 449.1,380.4 450.3,381.0 451.7,381.2 453.1,381.0 454.3,380.4 455.5,379.3 456.5,378.0 457.2,376.3 457.6,374.5Z" fill="url(#gV)" stroke="#4c3c90" stroke-width="0.6" stroke-opacity="0.8"/>
<path d="M466.4,376.3 465.8,374.9 464.9,373.7 463.9,372.7 462.8,372.0 461.5,371.5 460.3,371.4 459.2,371.7 458.1,372.2 457.3,373.1 456.6,374.2 456.2,375.5 456.0,376.9 456.2,378.4 456.6,379.9 457.2,381.3 458.1,382.5 459.1,383.5 460.2,384.2 461.5,384.7 462.7,384.8 463.8,384.5 464.9,384.0 465.7,383.1 466.4,382.0 466.8,380.7 467.0,379.3 466.8,377.8Z" fill="url(#gv)" stroke="#58489a" stroke-width="0.6" stroke-opacity="0.8"/>
<path d="M518.1,374.6 517.9,373.2 517.3,372.0 516.4,370.8 515.2,369.8 513.7,369.1 512.1,368.7 510.4,368.5 508.7,368.7 507.1,369.1 505.6,369.8 504.4,370.8 503.5,372.0 502.9,373.2 502.7,374.6 502.9,376.0 503.5,377.2 504.4,378.4 505.6,379.4 507.1,380.1 508.7,380.5 510.4,380.7 512.1,380.5 513.7,380.1 515.2,379.4 516.4,378.4 517.3,377.2 517.9,376.0Z" fill="url(#gv)" stroke="#58489a" stroke-width="0.6" stroke-opacity="0.8"/>
<path d="M492.8,382.5 492.7,381.3 492.1,380.2 491.3,379.2 490.3,378.4 489.0,377.8 487.5,377.4 486.0,377.2 484.5,377.4 483.0,377.8 481.7,378.4 480.7,379.2 479.9,380.2 479.3,381.3 479.2,382.5 479.3,383.7 479.9,384.8 480.7,385.8 481.7,386.6 483.0,387.2 484.5,387.6 486.0,387.8 487.5,387.6 489.0,387.2 490.3,386.6 491.3,385.8 492.1,384.8 492.7,383.7Z" fill="url(#gv)" stroke="#58489a" stroke-width="0.6" stroke-opacity="0.8"/>
</g>
<path d="M491.9,381.9H514.6" stroke="#182024" stroke-width="1.7"/>
</g>
<g clip-path="url(#ci4)">
<rect x="267.3" y="399.2" width="74.6" height="75.3" fill="#b3c4d0"/>
<g filter="url(#cb)">
<path d="M316.9,406.7 316.8,405.4 315.8,403.5 314.1,402.2 312.2,401.8 310.9,401.9 309.0,402.9 307.7,404.6 307.3,406.5 307.4,407.8 308.4,409.7 310.1,411.0 312.0,411.4 313.3,411.3 315.2,410.3 316.5,408.6Z" fill="#f2ece6" opacity="0.9"/>
<path d="M315.4,414.3 314.0,412.9 312.5,412.1 310.8,411.6 309.1,411.4 307.4,411.6 305.7,412.2 304.2,413.1 303.1,414.1 302.1,415.5 301.4,417.6 304.2,424.0 304.8,424.6 308.7,425.9 309.6,425.8 316.2,421.7 316.9,420.6 317.1,418.7 316.9,417.0 316.3,415.5Z" fill="#f2ece6" opacity="0.9"/>
<path d="M300.4,416.4 299.6,415.4 298.1,414.4 296.9,414.1 295.1,414.1 293.9,414.4 292.4,415.4 291.6,416.4 291.2,417.9 291.5,418.8 294.8,421.8 295.4,422.1 296.1,421.9 300.4,418.6 300.8,417.7Z" fill="#f2ece6" opacity="0.9"/>
<path d="M294.9,422.5 294.6,423.4 295.3,425.4 300.3,427.5 300.9,427.5 302.8,426.7 303.8,425.9 304.4,424.9 304.4,424.1 302.3,419.5 301.7,418.9 300.9,418.7 299.7,418.8Z" fill="#f2ece6" opacity="0.9"/>
<path d="M296.1,423.1 295.8,422.4 291.8,418.8 291.1,418.5 290.0,418.6 287.9,419.6 286.9,420.6 285.9,422.7 285.9,424.7 286.9,426.8 287.9,427.8 290.0,428.8 292.0,428.8 293.3,428.3 295.1,426.8 296.0,425.0Z" fill="#f2ece6" opacity="0.9"/>
<path d="M301.8,429.1 301.4,427.9 300.9,427.5 296.3,425.7 295.6,425.7 294.0,426.5 292.8,427.9 292.4,429.1 292.4,430.9 292.8,432.1 294.2,433.6 295.9,434.4 298.1,434.4 300.0,433.6 300.9,432.8 301.8,430.9Z" fill="#f2ece6" opacity="0.9"/>
<path d="M310.5,428.0 310.1,426.8 309.2,425.8 304.8,424.5 302.9,425.3 302.0,426.1 301.1,428.0 301.1,429.8 301.5,431.0 302.9,432.5 304.6,433.3 306.8,433.3 308.7,432.5 309.6,431.7 310.5,429.8Z" fill="#f2ece6" opacity="0.9"/>
<path d="M318.8,424.6 318.1,423.4 317.3,422.5 316.5,422.0 315.4,422.0 309.4,425.7 309.0,426.4 308.9,426.9 309.5,429.2 310.8,430.9 311.7,431.6 313.4,432.1 314.2,431.8 318.9,426.5 319.2,425.8Z" fill="#f2ece6" opacity="0.9"/>
<path d="M323.9,427.3 322.7,426.6 321.4,426.1 319.5,426.0 318.9,426.3 314.5,431.1 314.3,431.8 314.5,432.4 318.6,437.6 319.3,438.0 321.4,437.9 322.4,437.2 325.3,429.6 325.2,428.7Z" fill="#f2ece6" opacity="0.9"/>
<path d="M335.8,432.2 335.0,430.7 333.8,429.5 332.2,428.4 330.9,427.9 329.2,427.7 327.6,427.9 326.0,428.4 325.3,429.1 322.2,437.3 322.5,439.0 323.6,440.5 329.9,443.1 330.6,443.1 332.2,442.6 333.8,441.5 335.0,440.3 335.8,438.8 336.3,437.1 336.5,435.6 336.3,433.9Z" fill="#f2ece6" opacity="0.9"/>
<path d="M312.6,437.9 312.1,435.7 311.4,434.6 309.7,433.2 307.7,432.7 306.4,432.9 304.4,433.9 303.2,435.5 302.6,437.7 303.1,439.9 303.8,441.0 305.5,442.4 307.5,442.9 308.8,442.7 310.8,441.7 312.0,440.1Z" fill="#f2ece6" opacity="0.9"/>
<path d="M313.0,432.2 312.2,433.0 311.5,434.7 311.6,436.5 312.2,438.0 313.0,438.8 314.7,439.5 316.3,439.5 318.0,438.8 318.6,437.7 318.4,437.1 314.6,432.3 314.0,431.9Z" fill="#f2ece6" opacity="0.9"/>
<path d="M320.5,440.0 318.6,438.5 316.3,437.9 314.0,438.4 312.1,439.8 311.3,441.1 311.0,442.0 311.0,442.7 313.7,448.1 314.9,448.5 316.3,448.7 317.5,448.5 319.3,447.7 319.8,447.1 321.3,442.0 321.1,441.1Z" fill="#f2ece6" opacity="0.9"/>
<path d="M323.9,440.4 322.5,440.6 321.5,441.3 321.1,441.8 319.6,446.9 319.9,448.2 320.5,449.3 321.5,450.3 322.6,451.0 323.3,451.0 327.0,449.8 327.6,449.1 329.5,443.7 329.4,442.9 328.9,442.5Z" fill="#f2ece6" opacity="0.9"/>
<path d="M337.8,445.9 337.0,444.5 336.0,443.6 334.8,442.9 332.4,442.3 330.0,442.8 329.4,443.4 327.5,448.9 327.5,449.5 327.8,450.0 333.0,454.1 333.9,454.2 334.8,453.9 336.0,453.2 337.0,452.3 337.8,450.9 338.4,448.5 338.2,447.2Z" fill="#f2ece6" opacity="0.9"/>
<path d="M294.5,445.8 294.0,444.3 293.2,443.1 292.2,442.1 289.9,441.0 288.5,440.8 287.1,441.0 285.8,441.4 284.6,442.1 283.4,443.3 282.3,445.6 282.2,448.2 282.5,448.8 286.4,452.9 286.9,453.2 288.3,453.4 289.7,453.2 291.2,452.7 292.4,451.9 293.4,450.9 294.1,449.7 294.5,448.4Z" fill="#f2ece6" opacity="0.9"/>
<path d="M304.8,451.5 304.4,449.2 303.8,448.0 302.0,446.5 300.1,446.0 298.8,446.2 296.8,447.3 295.7,449.0 295.2,451.3 295.6,453.6 296.2,454.8 298.0,456.3 299.9,456.8 301.2,456.6 303.2,455.5 304.3,453.8Z" fill="#f2ece6" opacity="0.9"/>
<path d="M309.6,442.1 307.2,442.0 305.8,442.5 303.8,443.9 302.8,445.7 302.6,447.1 303.1,449.1 303.9,450.3 306.0,451.6 311.3,451.3 312.8,450.1 313.7,448.7 313.6,447.9 311.3,442.9 310.8,442.5Z" fill="#f2ece6" opacity="0.9"/>
<path d="M313.5,452.0 311.8,451.1 305.4,451.6 304.7,451.9 303.5,453.0 302.7,454.4 302.2,456.0 302.0,457.6 302.1,459.2 302.6,460.8 303.4,462.2 304.7,463.5 305.8,464.3 307.3,464.9 309.1,465.1 310.7,464.9 312.2,464.3 313.5,463.4 314.5,462.4 315.4,460.8 315.8,459.2 314.3,453.1Z" fill="#f2ece6" opacity="0.9"/>
<path d="M322.3,452.2 320.8,450.6 318.8,450.0 317.5,450.2 315.7,451.3 314.6,453.0 314.4,454.3 315.5,459.1 315.9,459.6 317.5,460.6 318.8,460.8 320.6,460.3 321.7,459.5 322.3,458.6 323.1,456.7 322.7,453.0Z" fill="#f2ece6" opacity="0.9"/>
<path d="M323.0,457.1 323.3,457.7 323.8,458.0 329.7,459.1 330.4,459.0 332.5,457.5 333.2,456.5 333.7,455.0 333.3,454.1 327.8,449.7 326.9,449.6 323.2,450.9 322.6,451.4 322.4,452.1Z" fill="#f2ece6" opacity="0.9"/>
<path d="M331.9,461.5 331.4,460.2 330.2,459.0 323.7,457.8 322.2,458.6 320.6,460.2 320.1,461.5 320.1,463.7 320.6,465.0 322.4,466.8 324.6,467.6 327.2,467.7 329.6,466.8 330.8,465.8 331.5,464.8 331.9,463.7Z" fill="#f2ece6" opacity="0.9"/>
<path d="M303.6,460.6 303.1,459.2 301.6,457.5 300.4,456.8 297.9,456.3 295.6,456.8 294.4,457.5 292.9,459.2 292.4,460.8 292.6,461.6 296.4,466.6 297.1,467.0 298.1,467.1 300.6,466.5 302.5,465.0 303.6,462.8Z" fill="#f2ece6" opacity="0.9"/>
<path d="M288.8,461.5 286.8,463.1 285.9,464.8 285.9,465.5 287.7,471.0 288.5,471.6 292.9,472.4 293.6,472.3 294.9,471.5 296.3,469.6 296.8,468.1 296.7,466.6 292.7,461.4 292.0,461.0 291.1,461.0Z" fill="#f2ece6" opacity="0.9"/>
<path d="M278.6,449.6 278.2,448.3 276.9,446.7 274.9,445.9 273.1,445.9 272.1,446.3 269.6,449.0 269.3,450.4 269.4,451.4 270.2,453.4 271.1,454.3 273.1,455.1 274.9,455.1 276.9,454.3 277.8,453.4 278.6,451.7Z" fill="#f2ece6" opacity="0.9"/>
<path d="M285.8,452.3 285.5,451.7 283.1,449.1 282.0,448.8 281.0,449.2 280.0,450.4 279.5,451.9 279.5,453.5 280.1,455.0 281.0,456.0 282.0,456.4 283.2,456.4 284.2,456.0 285.1,455.0 285.7,453.5Z" fill="#f2ece6" opacity="0.9"/>
<path d="M280.7,459.6 280.6,458.1 279.4,455.8 277.4,454.3 275.1,453.8 272.6,454.3 271.3,455.1 269.9,456.9 269.3,459.4 269.4,460.9 270.6,463.2 272.6,464.7 274.9,465.2 276.4,465.1 278.7,463.9 280.1,462.1Z" fill="#f2ece6" opacity="0.9"/>
<path d="M271.7,444.0 271.0,441.7 269.7,440.2 268.8,439.7 267.8,439.6 266.1,440.3 264.9,441.9 264.5,442.9 264.3,444.9 264.6,447.3 265.6,449.1 267.2,450.3 268.2,450.4 268.9,450.0 271.5,447.1Z" fill="#f2ece6" opacity="0.9"/>
<path d="M285.0,465.9 283.9,466.7 283.5,467.4 283.2,468.7 283.5,469.8 283.9,470.5 285.0,471.3 286.1,471.6 287.1,471.4 287.6,470.9 287.7,470.2 286.4,466.5 285.9,465.9Z" fill="#f2ece6" opacity="0.9"/>
<path d="M277.9,475.2 277.7,473.8 276.4,472.2 274.4,471.2 272.1,470.9 269.6,471.2 267.6,472.2 266.7,473.2 266.1,474.8 266.3,476.2 267.6,477.8 269.6,478.8 271.9,479.1 274.4,478.8 276.4,477.8 277.3,476.8Z" fill="#f2ece6" opacity="0.9"/>
<path d="M293.9,474.3 293.4,473.3 292.4,472.2 288.9,471.5 287.2,472.1 286.3,472.8 285.6,474.0 285.4,475.1 285.8,476.5 287.0,477.8 288.7,478.4 290.5,478.5 292.2,477.9 293.4,476.7 293.9,475.7Z" fill="#f2ece6" opacity="0.9"/>
<path d="M304.3,475.2 304.1,474.0 303.1,472.8 301.8,472.1 300.1,471.8 298.3,472.0 296.9,472.8 296.1,473.6 295.7,474.8 295.9,476.0 296.9,477.2 298.2,477.9 299.9,478.2 301.7,478.0 303.1,477.2 303.9,476.4Z" fill="#f2ece6" opacity="0.9"/>
<path d="M315.9,406.6 315.9,405.7 315.6,404.9 315.1,404.2 314.5,403.6 313.8,403.1 313.0,402.8 312.1,402.8 311.2,402.8 310.4,403.1 309.7,403.6 309.1,404.2 308.6,404.9 308.3,405.7 308.3,406.6 308.3,407.5 308.6,408.3 309.1,409.0 309.7,409.6 310.4,410.1 311.2,410.4 312.1,410.4 313.0,410.4 313.8,410.1 314.5,409.6 315.1,409.0 315.6,408.3 315.9,407.5Z" fill="url(#gd)" stroke="#58220e" stroke-width="0.6" stroke-opacity="0.8"/>
<path d="M314.6,414.8 313.5,413.8 312.2,413.1 310.7,412.6 309.2,412.4 307.7,412.6 306.2,413.1 304.9,413.8 303.8,414.8 303.0,416.0 302.4,417.4 302.4,417.7 305.1,423.6 309.1,424.9 315.7,420.9 316.0,420.2 316.1,418.8 316.0,417.4 315.4,416.0Z" fill="url(#gx)" stroke="#5e2410" stroke-width="0.6" stroke-opacity="0.8"/>
<path d="M299.5,416.8 299.0,416.2 298.4,415.7 297.7,415.3 296.9,415.1 296.0,415.0 295.1,415.1 294.3,415.3 293.6,415.7 293.0,416.2 292.5,416.8 292.2,417.5 292.2,418.1 295.5,421.1 299.8,417.8 299.8,417.5Z" fill="url(#gb)" stroke="#6a2a14" stroke-width="0.6" stroke-opacity="0.8"/>
<path d="M295.5,423.3 295.6,423.9 295.9,424.6 296.1,424.8 300.6,426.5 301.5,426.3 302.3,425.9 303.0,425.3 303.5,424.6 303.5,424.5 301.4,419.9 300.6,419.7 300.4,419.6Z" fill="url(#gg)" stroke="#a494b4" stroke-width="0.6" stroke-opacity="0.8"/>
<path d="M295.1,423.2 291.1,419.5 291.0,419.5 290.1,419.6 289.2,419.9 288.4,420.4 287.7,421.1 287.2,421.9 286.9,422.8 286.8,423.7 286.9,424.6 287.2,425.5 287.7,426.3 288.4,427.0 289.2,427.5 290.1,427.8 291.0,427.9 291.9,427.8 292.8,427.5 293.6,427.0 294.3,426.3 294.8,425.5 295.1,424.6 295.2,423.7Z" fill="url(#go)" stroke="#763418" stroke-width="0.6" stroke-opacity="0.8"/>
<path d="M300.9,429.2 300.6,428.5 300.5,428.4 295.9,426.7 295.4,426.8 294.7,427.2 294.1,427.8 293.6,428.5 293.3,429.2 293.3,430.0 293.3,430.8 293.6,431.5 294.1,432.2 294.7,432.8 295.4,433.2 296.2,433.4 297.1,433.5 298.0,433.4 298.8,433.2 299.5,432.8 300.1,432.2 300.6,431.5 300.9,430.8 300.9,430.0Z" fill="url(#gd)" stroke="#58220e" stroke-width="0.6" stroke-opacity="0.8"/>
<path d="M309.6,428.1 309.3,427.4 308.9,426.8 305.0,425.5 304.9,425.5 304.1,425.7 303.4,426.1 302.8,426.7 302.3,427.4 302.0,428.1 302.0,428.9 302.0,429.7 302.3,430.4 302.8,431.1 303.4,431.7 304.1,432.1 304.9,432.3 305.8,432.4 306.7,432.3 307.5,432.1 308.2,431.7 308.8,431.1 309.3,430.4 309.6,429.7 309.7,428.9Z" fill="url(#gd)" stroke="#58220e" stroke-width="0.6" stroke-opacity="0.8"/>
<path d="M317.9,424.9 317.4,424.1 316.7,423.4 315.9,422.8 310.0,426.5 309.9,426.8 310.0,427.8 310.3,428.7 310.8,429.5 311.5,430.2 312.3,430.8 313.2,431.1 313.5,431.1 318.2,425.9 318.2,425.8Z" fill="url(#gb)" stroke="#6a2a14" stroke-width="0.6" stroke-opacity="0.8"/>
<path d="M323.3,428.0 322.2,427.4 321.1,427.1 319.9,426.9 319.6,427.0 315.3,431.8 319.4,437.0 319.9,437.1 321.1,436.9 321.5,436.8 324.4,429.2 324.1,428.8Z" fill="url(#gb)" stroke="#6a2a14" stroke-width="0.6" stroke-opacity="0.8"/>
<path d="M334.8,432.5 334.1,431.2 333.1,430.2 331.9,429.4 330.5,428.9 329.1,428.7 327.7,428.9 326.3,429.4 326.2,429.4 323.1,437.7 323.4,438.5 324.0,439.5 330.3,442.2 330.5,442.1 331.9,441.6 333.1,440.8 334.1,439.8 334.8,438.5 335.3,437.0 335.5,435.5 335.3,434.0Z" fill="url(#go)" stroke="#763418" stroke-width="0.6" stroke-opacity="0.8"/>
<path d="M311.6,437.8 311.5,436.9 311.2,436.0 310.7,435.3 310.1,434.6 309.3,434.1 308.5,433.8 307.6,433.7 306.7,433.8 305.9,434.1 305.1,434.6 304.5,435.3 304.0,436.0 303.7,436.9 303.6,437.8 303.7,438.7 304.0,439.6 304.5,440.3 305.1,441.0 305.9,441.5 306.7,441.8 307.6,441.9 308.5,441.8 309.3,441.5 310.1,441.0 310.7,440.3 311.2,439.6 311.5,438.7Z" fill="url(#gb)" stroke="#6a2a14" stroke-width="0.6" stroke-opacity="0.8"/>
<path d="M313.6,433.1 313.1,433.6 312.7,434.2 312.5,434.8 312.4,435.5 312.5,436.2 312.7,436.8 313.1,437.4 313.6,437.9 314.2,438.3 314.8,438.5 315.5,438.6 316.2,438.5 316.8,438.3 317.4,437.9 317.7,437.7 313.9,432.9Z" fill="url(#gg)" stroke="#a494b4" stroke-width="0.6" stroke-opacity="0.8"/>
<path d="M319.6,440.6 318.9,439.9 318.1,439.3 317.2,439.0 316.2,438.9 315.2,439.0 314.3,439.3 313.5,439.9 312.8,440.6 312.2,441.4 311.9,442.3 314.2,447.2 314.3,447.3 315.2,447.6 316.2,447.7 317.2,447.6 318.1,447.3 318.8,446.8 320.3,441.8 320.2,441.4Z" fill="url(#gd)" stroke="#58220e" stroke-width="0.6" stroke-opacity="0.8"/>
<path d="M323.5,441.3 322.9,441.5 322.1,442.1 320.6,447.1 320.8,447.9 321.4,448.7 322.1,449.5 322.9,450.1 323.0,450.1 326.7,448.8 328.6,443.4 328.6,443.4Z" fill="url(#gb)" stroke="#6a2a14" stroke-width="0.6" stroke-opacity="0.8"/>
<path d="M336.9,446.2 336.3,445.2 335.5,444.4 334.5,443.8 333.4,443.5 332.3,443.3 331.2,443.5 330.3,443.8 328.5,449.2 333.6,453.3 334.5,453.0 335.5,452.4 336.3,451.6 336.9,450.6 337.2,449.5 337.4,448.4 337.2,447.3Z" fill="url(#go)" stroke="#763418" stroke-width="0.6" stroke-opacity="0.8"/>
<path d="M293.5,445.9 293.2,444.8 292.5,443.8 291.7,443.0 290.7,442.3 289.6,442.0 288.4,441.8 287.2,442.0 286.1,442.3 285.1,443.0 284.3,443.8 283.6,444.8 283.3,445.9 283.1,447.1 283.2,448.1 287.1,452.2 287.2,452.2 288.4,452.4 289.6,452.2 290.7,451.9 291.7,451.2 292.5,450.4 293.2,449.4 293.5,448.3 293.7,447.1Z" fill="url(#go)" stroke="#763418" stroke-width="0.6" stroke-opacity="0.8"/>
<path d="M303.8,451.4 303.8,450.4 303.5,449.5 303.0,448.7 302.4,448.0 301.7,447.4 300.9,447.1 300.0,447.0 299.1,447.1 298.3,447.4 297.6,448.0 297.0,448.7 296.5,449.5 296.2,450.4 296.1,451.4 296.2,452.4 296.5,453.3 297.0,454.1 297.6,454.8 298.3,455.4 299.1,455.7 300.0,455.8 300.9,455.7 301.7,455.4 302.4,454.8 303.0,454.1 303.5,453.3 303.8,452.4Z" fill="url(#gb)" stroke="#6a2a14" stroke-width="0.6" stroke-opacity="0.8"/>
<path d="M309.4,443.0 308.3,442.9 307.2,443.0 306.2,443.3 305.4,443.8 304.6,444.5 304.0,445.2 303.7,446.1 303.6,447.0 303.7,447.9 304.0,448.8 304.6,449.5 305.4,450.2 306.2,450.7 306.4,450.7 310.8,450.4 311.2,450.2 312.0,449.5 312.6,448.8 312.7,448.3 310.4,443.4 310.4,443.3Z" fill="url(#gg)" stroke="#a494b4" stroke-width="0.6" stroke-opacity="0.8"/>
<path d="M312.8,452.7 311.9,452.1 305.5,452.6 305.2,452.7 304.3,453.7 303.5,454.9 303.1,456.3 303.0,457.7 303.1,459.1 303.5,460.5 304.3,461.7 305.2,462.7 306.4,463.4 307.7,463.9 309.0,464.1 310.3,463.9 311.6,463.4 312.8,462.7 313.7,461.7 314.5,460.5 314.8,459.4 313.3,453.3Z" fill="url(#gl)" stroke="#8070ac" stroke-width="0.6" stroke-opacity="0.8"/>
<path d="M321.5,452.7 320.9,452.0 320.2,451.4 319.5,451.1 318.7,451.0 317.9,451.1 317.2,451.4 316.5,452.0 315.9,452.7 315.5,453.5 315.4,454.1 316.5,458.8 316.5,458.8 317.2,459.4 317.9,459.7 318.7,459.8 319.5,459.7 320.2,459.4 320.9,458.8 321.5,458.1 321.9,457.3 322.1,456.4 321.7,453.2Z" fill="url(#gb)" stroke="#6a2a14" stroke-width="0.6" stroke-opacity="0.8"/>
<path d="M324.0,457.0 329.9,458.2 330.9,457.6 331.7,456.9 332.3,456.1 332.6,455.2 332.7,454.8 327.2,450.5 323.5,451.8 323.4,452.0Z" fill="url(#gb)" stroke="#6a2a14" stroke-width="0.6" stroke-opacity="0.8"/>
<path d="M330.9,461.7 330.6,460.8 330.0,460.0 323.9,458.8 323.8,458.8 322.8,459.3 322.0,460.0 321.4,460.8 321.1,461.7 320.9,462.6 321.1,463.5 321.4,464.4 322.0,465.2 322.8,465.9 323.8,466.4 324.9,466.7 326.0,466.8 327.1,466.7 328.2,466.4 329.2,465.9 330.0,465.2 330.6,464.4 330.9,463.5 331.1,462.6Z" fill="url(#go)" stroke="#763418" stroke-width="0.6" stroke-opacity="0.8"/>
<path d="M302.6,460.7 302.3,459.8 301.7,459.0 300.9,458.3 300.1,457.7 299.1,457.4 298.0,457.3 296.9,457.4 295.9,457.7 295.1,458.3 294.3,459.0 293.7,459.8 293.4,460.7 293.4,460.9 297.2,466.0 298.0,466.1 299.1,466.0 300.1,465.7 300.9,465.1 301.7,464.4 302.3,463.6 302.6,462.7 302.7,461.7Z" fill="url(#go)" stroke="#763418" stroke-width="0.6" stroke-opacity="0.8"/>
<path d="M289.1,462.4 288.3,463.0 287.5,463.8 286.9,464.8 286.8,465.1 288.7,470.6 293.0,471.4 293.3,471.4 294.1,470.8 294.9,470.0 295.5,469.0 295.8,468.0 295.9,467.2 291.9,462.0 291.2,462.0 290.1,462.1Z" fill="url(#gb)" stroke="#6a2a14" stroke-width="0.6" stroke-opacity="0.8"/>
<path d="M277.6,449.7 277.4,448.9 276.9,448.2 276.3,447.6 275.6,447.1 274.8,446.9 274.0,446.8 273.2,446.9 272.8,447.0 270.4,449.7 270.3,450.5 270.4,451.3 270.6,452.1 271.1,452.8 271.7,453.4 272.4,453.9 273.2,454.1 274.0,454.2 274.8,454.1 275.6,453.9 276.3,453.4 276.9,452.8 277.4,452.1 277.6,451.3 277.7,450.5Z" fill="url(#gx)" stroke="#5e2410" stroke-width="0.6" stroke-opacity="0.8"/>
<path d="M284.8,452.3 282.3,449.8 282.1,449.8 281.6,450.0 281.2,450.4 280.9,450.8 280.6,451.4 280.5,452.0 280.4,452.6 280.5,453.2 280.6,453.8 280.9,454.4 281.2,454.8 281.6,455.2 282.1,455.4 282.6,455.5 283.1,455.4 283.6,455.2 284.0,454.8 284.3,454.4 284.6,453.8 284.7,453.2 284.8,452.6Z" fill="url(#gl)" stroke="#8070ac" stroke-width="0.6" stroke-opacity="0.8"/>
<path d="M279.7,459.5 279.6,458.4 279.3,457.4 278.7,456.6 277.9,455.8 277.1,455.2 276.1,454.9 275.0,454.8 273.9,454.9 272.9,455.2 272.1,455.8 271.3,456.6 270.7,457.4 270.4,458.4 270.3,459.5 270.4,460.6 270.7,461.6 271.3,462.4 272.1,463.2 272.9,463.8 273.9,464.1 275.0,464.2 276.1,464.1 277.1,463.8 277.9,463.2 278.7,462.4 279.3,461.6 279.6,460.6Z" fill="url(#gd)" stroke="#58220e" stroke-width="0.6" stroke-opacity="0.8"/>
<path d="M270.7,444.0 270.5,443.1 270.2,442.3 269.7,441.6 269.2,441.0 268.6,440.7 268.0,440.6 267.4,440.7 266.8,441.0 266.3,441.6 265.8,442.3 265.5,443.1 265.3,444.0 265.2,445.0 265.3,446.0 265.5,446.9 265.8,447.7 266.3,448.4 266.8,449.0 267.4,449.3 268.0,449.4 268.2,449.4 270.5,446.9 270.7,446.0 270.8,445.0Z" fill="url(#gP)" stroke="#7e6e94" stroke-width="0.6" stroke-opacity="0.8"/>
<path d="M285.3,466.8 285.0,467.1 284.7,467.4 284.4,467.7 284.3,468.2 284.2,468.6 284.3,469.0 284.4,469.5 284.7,469.8 285.0,470.1 285.3,470.4 285.8,470.5 286.2,470.6 286.6,470.5 286.7,470.5 285.5,466.8Z" fill="url(#gl)" stroke="#8070ac" stroke-width="0.6" stroke-opacity="0.8"/>
<path d="M277.0,475.0 276.8,474.3 276.5,473.7 275.9,473.1 275.1,472.6 274.1,472.2 273.1,472.0 272.0,471.9 270.9,472.0 269.9,472.2 268.9,472.6 268.1,473.1 267.5,473.7 267.2,474.3 267.0,475.0 267.2,475.7 267.5,476.3 268.1,476.9 268.9,477.4 269.9,477.8 270.9,478.0 272.0,478.1 273.1,478.0 274.1,477.8 275.1,477.4 275.9,476.9 276.5,476.3 276.8,475.7Z" fill="url(#gd)" stroke="#58220e" stroke-width="0.6" stroke-opacity="0.8"/>
<path d="M292.9,474.4 292.7,473.9 292.3,473.4 291.8,473.0 289.0,472.5 289.0,472.5 288.3,472.7 287.6,473.0 287.1,473.4 286.7,473.9 286.5,474.4 286.4,475.0 286.5,475.6 286.7,476.1 287.1,476.6 287.6,477.0 288.3,477.3 289.0,477.5 289.7,477.5 290.4,477.5 291.1,477.3 291.8,477.0 292.3,476.6 292.7,476.1 292.9,475.6 293.0,475.0Z" fill="url(#gb)" stroke="#6a2a14" stroke-width="0.6" stroke-opacity="0.8"/>
<path d="M303.3,475.0 303.2,474.5 303.0,474.0 302.6,473.6 302.1,473.3 301.4,473.0 300.7,472.9 300.0,472.8 299.3,472.9 298.6,473.0 297.9,473.3 297.4,473.6 297.0,474.0 296.8,474.5 296.7,475.0 296.8,475.5 297.0,476.0 297.4,476.4 297.9,476.7 298.6,477.0 299.3,477.1 300.0,477.2 300.7,477.1 301.4,477.0 302.1,476.7 302.6,476.4 303.0,476.0 303.2,475.5Z" fill="url(#gb)" stroke="#6a2a14" stroke-width="0.6" stroke-opacity="0.8"/>
</g>
<path d="M315,469.8H338.1" stroke="#182024" stroke-width="1.7"/>
</g>
<g clip-path="url(#ci5)">
<rect x="355.6" y="399.2" width="75.0" height="75.3" fill="#b8c9d6"/>
<g filter="url(#cb)">
<path d="M364.4,400.3 364.0,399.0 363.3,397.8 362.2,396.7 361.0,396.0 359.7,395.6 357.3,395.6 356.0,396.0 354.8,396.7 353.7,397.8 353.0,399.0 352.6,400.3 352.6,402.7 353.0,404.0 353.7,405.2 354.7,406.1 355.8,406.9 356.4,407.0 361.5,406.6 362.2,406.3 363.1,405.3 364.0,404.0 364.4,402.7Z" fill="#e6e8f0" opacity="0.9"/>
<path d="M365.0,409.6 364.4,408.1 363.5,406.7 362.5,406.3 355.9,406.9 355.1,407.3 354.0,409.4 353.6,411.1 353.6,414.7 354.6,417.9 355.5,419.3 356.6,420.3 357.7,420.9 358.8,420.8 365.0,415.7 365.4,414.9 365.5,413.1Z" fill="#e6e8f0" opacity="0.9"/>
<path d="M368.8,414.7 367.5,414.1 366.5,414.2 360.4,419.2 360.1,419.9 360.1,422.6 361.2,425.3 362.2,426.6 364.5,427.9 366.1,428.2 367.5,427.9 368.6,427.5 369.9,426.4 371.1,424.8 371.2,424.2 369.3,415.4Z" fill="#e6e8f0" opacity="0.9"/>
<path d="M380.1,417.9 379.6,416.3 378.9,415.0 377.9,413.9 376.8,413.1 375.5,412.6 374.1,412.5 372.7,412.7 370.5,413.9 369.4,415.2 369.2,415.9 371.1,424.8 371.7,425.5 372.9,426.0 374.3,426.1 375.7,425.9 377.9,424.7 378.9,423.6 379.7,422.1 380.1,420.7Z" fill="#e6e8f0" opacity="0.9"/>
<path d="M401.6,410.3 401.5,409.2 400.7,407.6 399.2,406.5 397.7,406.2 396.6,406.3 395.0,407.1 393.9,408.6 393.6,410.1 393.7,411.2 394.5,412.8 396.0,413.9 397.5,414.2 398.6,414.1 400.2,413.3 401.2,412.0Z" fill="#e6e8f0" opacity="0.9"/>
<path d="M417.8,413.5 417.1,412.0 416.2,410.6 415.0,409.6 413.6,408.9 412.2,408.6 410.7,408.8 409.2,409.4 408.0,410.5 407.0,411.8 406.2,413.4 405.8,415.1 405.6,416.9 405.8,418.9 406.2,420.6 407.0,422.2 408.0,423.5 408.6,424.1 409.4,424.3 410.0,423.9 417.6,414.4Z" fill="#e6e8f0" opacity="0.9"/>
<path d="M430.5,424.6 429.7,423.5 428.6,422.6 427.7,422.0 427.0,421.9 426.4,422.3 421.9,428.0 421.6,428.7 422.0,429.4 425.4,432.3 426.3,432.5 427.4,432.1 428.6,431.4 429.7,430.5 430.9,428.4 431.1,426.9Z" fill="#e6e8f0" opacity="0.9"/>
<path d="M426.3,417.1 424.7,415.8 422.7,414.8 420.6,414.2 418.1,414.1 417.4,414.4 409.5,424.3 409.3,425.3 409.5,425.7 410.7,427.3 411.5,427.8 420.9,428.8 421.8,428.4 427.8,420.8 428.0,419.8 427.4,418.5Z" fill="#e6e8f0" opacity="0.9"/>
<path d="M433.7,410.5 433.2,406.8 432.3,404.9 431.7,404.3 430.8,403.9 429.3,404.3 428.7,404.9 427.8,406.6 427.3,410.5 427.8,414.4 428.7,416.1 429.3,416.7 430.8,417.1 431.7,416.7 432.3,416.1 433.2,414.2Z" fill="#e6e8f0" opacity="0.9"/>
<path d="M412.3,427.7 410.3,428.5 408.5,430.0 407.0,432.0 406.2,434.0 405.9,436.1 406.3,438.3 407.1,440.2 408.5,442.0 410.1,443.3 412.2,444.5 414.5,445.1 416.9,445.2 426.6,440.4 427.1,439.9 427.8,438.0 428.1,436.1 427.9,434.4 427.5,433.7 421.7,428.9 421.1,428.6Z" fill="#e6e8f0" opacity="0.9"/>
<path d="M428.0,444.1 427.6,442.9 426.6,441.8 425.8,441.2 424.8,441.1 415.8,445.5 415.3,446.1 415.4,446.9 416.6,448.6 418.7,449.9 420.3,450.3 423.1,450.3 425.7,449.3 427.4,447.7 428.0,446.3Z" fill="#e6e8f0" opacity="0.9"/>
<path d="M403.5,436.9 402.1,435.3 400.5,434.1 398.4,433.3 396.6,433.0 394.6,433.3 393.4,433.7 392.9,434.2 388.4,443.0 388.5,444.0 391.8,449.2 392.4,449.6 400.6,451.4 401.4,451.2 402.1,450.7 403.5,449.1 404.4,447.4 405.1,445.1 405.3,443.1 405.1,440.9 404.5,438.8Z" fill="#e6e8f0" opacity="0.9"/>
<path d="M400.6,451.7 399.8,451.0 392.8,449.5 392.2,449.6 391.7,450.1 388.2,458.0 388.3,458.9 389.6,460.3 390.8,461.1 392.3,461.7 394.1,461.9 395.7,461.7 397.2,461.1 398.6,460.2 399.5,459.2 400.5,457.6 401.0,456.0 401.2,454.6 401.0,453.0Z" fill="#e6e8f0" opacity="0.9"/>
<path d="M387.2,458.5 387.9,458.4 388.4,457.9 392.0,449.9 391.9,449.0 388.6,443.9 387.8,443.4 382.2,442.8 381.3,443.2 377.4,448.6 377.3,449.5 379.0,455.2 379.6,455.9Z" fill="#e6e8f0" opacity="0.9"/>
<path d="M378.0,436.6 376.1,436.0 374.4,435.8 372.7,436.0 371.2,436.5 369.7,437.3 368.3,438.6 367.4,439.7 366.8,441.3 366.6,443.1 366.8,444.7 367.3,446.0 368.6,447.8 369.1,448.0 376.7,449.0 377.6,448.6 381.4,443.3 381.5,442.4 379.4,437.6Z" fill="#e6e8f0" opacity="0.9"/>
<path d="M368.3,459.4 368.7,459.8 373.3,461.9 373.9,462.0 374.5,461.6 379.0,456.1 379.2,455.2 377.5,449.5 376.7,448.8 369.2,447.8 368.3,448.2 367.1,450.1 366.3,455.4 366.5,456.1Z" fill="#e6e8f0" opacity="0.9"/>
<path d="M379.8,455.8 379.2,455.8 378.7,456.1 375.0,460.7 374.7,461.5 375.0,462.9 375.6,463.5 384.3,466.7 385.2,466.6 386.8,465.2 387.7,463.8 388.3,461.0 388.0,458.9 387.4,458.3Z" fill="#e6e8f0" opacity="0.9"/>
<path d="M389.6,431.4 387.8,430.8 386.2,430.6 384.6,430.8 383.2,431.3 381.8,432.1 380.6,433.2 379.7,434.6 379.1,436.3 379.1,437.4 381.3,442.4 382.2,443.0 387.6,443.6 388.2,443.5 388.6,443.0 392.7,435.1 392.6,434.1 392.1,433.4 391.0,432.3Z" fill="#e6e8f0" opacity="0.9"/>
<path d="M363.8,447.7 362.2,447.6 359.6,448.0 356.5,450.1 355.9,451.4 355.7,452.6 356.0,453.7 357.0,455.3 357.7,455.6 365.5,455.8 366.2,455.5 366.6,454.9 367.3,449.9 366.9,449.0 366.4,448.6Z" fill="#e6e8f0" opacity="0.9"/>
<path d="M360.5,444.1 359.9,442.1 358.8,440.6 358.0,440.2 357.1,440.1 355.6,440.8 354.6,442.2 354.1,444.9 354.3,447.0 355.0,448.6 355.6,449.2 356.3,449.7 357.3,449.6 359.7,448.0 360.1,447.5 360.5,446.1Z" fill="#e6e8f0" opacity="0.9"/>
<path d="M355.5,458.4 355.3,459.9 355.4,461.3 356.3,463.3 356.8,463.7 362.2,465.5 363.3,465.3 368.1,460.2 368.4,459.6 368.3,459.0 366.7,456.1 365.8,455.6 357.9,455.4 356.7,456.1Z" fill="#e6e8f0" opacity="0.9"/>
<path d="M371.8,461.1 369.1,459.8 368.5,459.7 368.0,460.0 363.1,465.1 362.9,466.2 364.6,470.4 365.3,471.2 366.7,471.8 368.9,471.8 370.3,471.2 371.9,469.5 372.9,467.0 373.1,465.3 372.6,462.7Z" fill="#e6e8f0" opacity="0.9"/>
<path d="M385.8,467.3 385.2,466.8 376.4,463.6 375.3,463.7 373.9,464.3 373.4,464.9 371.3,470.7 371.4,471.5 372.6,473.1 373.9,474.0 375.3,474.7 378.4,475.2 381.7,474.7 383.1,474.0 384.4,473.1 385.5,471.8 386.0,470.7 386.2,469.3Z" fill="#e6e8f0" opacity="0.9"/>
<path d="M357.0,463.6 356.4,463.6 355.9,463.9 354.8,466.0 354.4,468.6 354.8,471.4 356.0,473.6 357.1,474.6 359.0,475.3 360.2,475.1 361.5,474.5 363.1,472.6 363.9,470.2 363.9,468.2 363.1,466.0 362.4,465.4Z" fill="#e6e8f0" opacity="0.9"/>
<path d="M407.9,467.1 407.7,465.9 406.7,464.1 405.2,463.1 403.1,462.6 401.0,463.0 399.9,463.6 398.5,465.2 398.1,466.9 398.3,468.1 399.3,469.9 400.8,470.9 402.9,471.4 405.0,471.0 406.1,470.4 407.5,468.8Z" fill="#e6e8f0" opacity="0.9"/>
<path d="M363.4,400.4 363.0,399.3 362.4,398.4 361.6,397.6 360.7,397.0 359.6,396.6 358.5,396.5 357.4,396.6 356.3,397.0 355.4,397.6 354.6,398.4 354.0,399.3 353.6,400.4 353.5,401.5 353.6,402.6 354.0,403.7 354.6,404.6 355.4,405.4 356.3,406.0 361.4,405.6 361.6,405.4 362.4,404.6 363.0,403.7 363.4,402.6 363.5,401.5Z" fill="url(#gP)" stroke="#7e6e94" stroke-width="0.6" stroke-opacity="0.8"/>
<path d="M364.0,409.8 363.4,408.5 362.6,407.3 362.6,407.3 356.0,407.9 355.6,408.5 355.0,409.8 354.6,411.4 354.5,413.0 354.6,414.6 355.0,416.2 355.6,417.5 356.4,418.7 357.3,419.6 358.2,420.0 364.3,415.0 364.4,414.6 364.5,413.0 364.4,411.4Z" fill="url(#gf)" stroke="#b4b4d0" stroke-width="0.6" stroke-opacity="0.8"/>
<path d="M368.2,415.5 367.1,415.0 361.1,419.9 361.0,421.0 361.1,422.4 361.5,423.7 362.1,424.8 362.9,425.8 363.8,426.5 364.9,427.0 366.0,427.2 367.1,427.0 368.2,426.5 369.1,425.8 369.9,424.8 370.2,424.4 368.3,415.6Z" fill="url(#gg)" stroke="#a494b4" stroke-width="0.6" stroke-opacity="0.8"/>
<path d="M379.1,418.0 378.7,416.8 378.1,415.7 377.3,414.7 376.4,414.1 375.3,413.6 374.2,413.5 373.1,413.6 372.0,414.1 371.1,414.7 370.3,415.7 370.2,415.7 372.0,424.6 373.1,425.0 374.2,425.1 375.3,425.0 376.4,424.5 377.3,423.9 378.1,422.9 378.7,421.8 379.1,420.6 379.2,419.3Z" fill="url(#gB)" stroke="#5c2c16" stroke-width="0.6" stroke-opacity="0.8"/>
<path d="M400.6,410.2 400.5,409.5 400.3,408.9 400.0,408.3 399.5,407.8 398.9,407.5 398.3,407.3 397.6,407.2 396.9,407.3 396.3,407.5 395.7,407.8 395.2,408.3 394.9,408.9 394.7,409.5 394.6,410.2 394.7,410.9 394.9,411.5 395.2,412.1 395.7,412.6 396.3,412.9 396.9,413.1 397.6,413.2 398.3,413.1 398.9,412.9 399.5,412.6 400.0,412.1 400.3,411.5 400.5,410.9Z" fill="url(#gB)" stroke="#5c2c16" stroke-width="0.6" stroke-opacity="0.8"/>
<path d="M416.8,413.8 416.2,412.4 415.4,411.2 414.3,410.3 413.2,409.8 412.0,409.6 410.8,409.8 409.7,410.3 408.6,411.2 407.8,412.4 407.2,413.8 406.8,415.4 406.6,417.0 406.8,418.6 407.2,420.2 407.8,421.6 408.6,422.8 409.3,423.3 416.9,413.8Z" fill="url(#gl)" stroke="#8070ac" stroke-width="0.6" stroke-opacity="0.8"/>
<path d="M429.5,425.0 428.9,424.1 428.0,423.3 427.2,422.9 422.6,428.6 426.1,431.5 426.9,431.2 428.0,430.7 428.9,429.9 429.5,429.0 430.0,428.0 430.1,427.0 430.0,426.0Z" fill="url(#gk)" stroke="#a07aa8" stroke-width="0.6" stroke-opacity="0.8"/>
<path d="M425.5,417.7 424.1,416.6 422.4,415.7 420.5,415.2 418.5,415.0 418.2,415.1 410.3,424.9 410.4,425.3 411.5,426.7 411.7,426.8 421.0,427.8 427.1,420.2 426.6,419.1Z" fill="url(#gB)" stroke="#5c2c16" stroke-width="0.6" stroke-opacity="0.8"/>
<path d="M432.7,410.5 432.7,409.3 432.5,408.1 432.3,407.0 431.9,406.1 431.5,405.5 431.0,405.0 430.5,404.9 430.0,405.0 429.5,405.5 429.1,406.1 428.7,407.0 428.5,408.1 428.3,409.3 428.3,410.5 428.3,411.7 428.5,412.9 428.7,414.0 429.1,414.9 429.5,415.5 430.0,416.0 430.5,416.1 431.0,416.0 431.5,415.5 431.9,414.9 432.3,414.0 432.5,412.9 432.7,411.7Z" fill="url(#go)" stroke="#763418" stroke-width="0.6" stroke-opacity="0.8"/>
<path d="M412.2,428.7 410.7,429.4 409.1,430.8 407.9,432.4 407.2,434.1 406.9,436.0 407.2,437.9 407.9,439.6 409.1,441.2 410.7,442.6 412.6,443.6 414.8,444.2 416.4,444.3 426.1,439.5 426.8,437.9 427.1,436.0 426.9,434.5 421.0,429.6Z" fill="url(#gL)" stroke="#6c5ca8" stroke-width="0.6" stroke-opacity="0.8"/>
<path d="M427.1,444.3 426.6,443.4 426.0,442.5 425.2,442.0 416.3,446.4 416.6,447.0 417.2,447.9 418.1,448.5 419.2,449.0 420.4,449.3 421.6,449.5 422.8,449.3 424.0,449.0 425.1,448.5 426.0,447.9 426.6,447.0 427.1,446.1 427.2,445.2Z" fill="url(#gB)" stroke="#5c2c16" stroke-width="0.6" stroke-opacity="0.8"/>
<path d="M402.6,437.4 401.4,436.0 399.9,434.9 398.2,434.3 396.5,434.0 394.8,434.3 393.8,434.6 389.3,443.5 392.6,448.6 400.8,450.4 401.4,450.0 402.6,448.6 403.6,446.9 404.1,445.0 404.3,443.0 404.1,441.0 403.6,439.1Z" fill="url(#gh)" stroke="#8c7cb2" stroke-width="0.6" stroke-opacity="0.8"/>
<path d="M399.6,452.0 392.6,450.5 389.1,458.4 389.2,458.5 390.2,459.5 391.3,460.3 392.6,460.7 394.0,460.9 395.4,460.7 396.7,460.3 397.8,459.5 398.8,458.5 399.5,457.3 400.0,455.9 400.2,454.5 400.0,453.1Z" fill="url(#gl)" stroke="#8070ac" stroke-width="0.6" stroke-opacity="0.8"/>
<path d="M387.5,457.5 391.1,449.5 387.7,444.4 382.1,443.8 378.2,449.2 379.9,455.0Z" fill="url(#gh)" stroke="#8c7cb2" stroke-width="0.6" stroke-opacity="0.8"/>
<path d="M377.5,437.5 376.0,437.0 374.5,436.8 373.0,437.0 371.5,437.5 370.2,438.2 369.1,439.2 368.2,440.3 367.7,441.6 367.6,443.0 367.7,444.4 368.2,445.7 369.1,446.8 369.3,447.0 376.8,448.0 380.6,442.8 378.5,438.0Z" fill="url(#gh)" stroke="#8c7cb2" stroke-width="0.6" stroke-opacity="0.8"/>
<path d="M369.1,458.9 373.7,461.0 378.2,455.5 376.6,449.8 369.0,448.8 368.4,449.5 368.1,450.3 367.3,455.4 367.3,455.6 367.3,455.7Z" fill="url(#gl)" stroke="#8070ac" stroke-width="0.6" stroke-opacity="0.8"/>
<path d="M379.5,456.7 375.7,461.4 375.8,462.2 376.0,462.6 384.7,465.7 385.1,465.5 386.1,464.5 386.7,463.4 387.2,462.2 387.3,460.9 387.2,459.6 387.1,459.3Z" fill="url(#gL)" stroke="#6c5ca8" stroke-width="0.6" stroke-opacity="0.8"/>
<path d="M389.1,432.3 387.7,431.8 386.3,431.6 384.9,431.8 383.5,432.3 382.3,433.0 381.3,434.0 380.5,435.1 380.1,436.4 380.0,436.9 382.3,442.0 387.7,442.6 391.8,434.7 391.3,434.0 390.3,433.0Z" fill="url(#gB)" stroke="#5c2c16" stroke-width="0.6" stroke-opacity="0.8"/>
<path d="M363.5,448.7 362.3,448.6 361.1,448.7 359.9,449.0 359.5,449.1 357.5,450.5 357.3,450.7 356.8,451.6 356.7,452.4 356.8,453.2 357.3,454.1 357.7,454.6 365.6,454.8 366.3,449.8 365.8,449.4 364.7,449.0Z" fill="url(#gB)" stroke="#5c2c16" stroke-width="0.6" stroke-opacity="0.8"/>
<path d="M359.5,444.1 359.3,443.3 359.1,442.6 358.7,441.9 358.3,441.5 357.8,441.2 357.3,441.1 356.8,441.2 356.3,441.5 355.9,441.9 355.5,442.6 355.3,443.3 355.1,444.1 355.1,445.0 355.1,445.9 355.3,446.7 355.5,447.4 355.9,448.1 356.3,448.5 356.8,448.8 359.1,447.2 359.3,446.7 359.5,445.9 359.5,445.0Z" fill="url(#gP)" stroke="#7e6e94" stroke-width="0.6" stroke-opacity="0.8"/>
<path d="M356.4,458.8 356.3,460.0 356.4,461.2 356.9,462.3 357.1,462.8 362.6,464.6 367.4,459.5 365.8,456.6 357.8,456.4 357.5,456.6 356.9,457.7Z" fill="url(#gg)" stroke="#a494b4" stroke-width="0.6" stroke-opacity="0.8"/>
<path d="M371.0,461.8 368.7,460.7 363.9,465.8 365.5,470.1 366.0,470.4 366.9,470.9 367.8,471.0 368.7,470.9 369.6,470.4 370.5,469.8 371.1,468.9 371.2,468.7 372.0,466.6 372.1,465.4 371.9,464.2 371.6,463.0 371.1,461.9Z" fill="url(#gd)" stroke="#58220e" stroke-width="0.6" stroke-opacity="0.8"/>
<path d="M384.9,467.7 376.0,464.5 375.6,464.7 374.4,465.2 372.3,471.1 372.4,471.4 373.2,472.3 374.3,473.1 375.6,473.7 377.0,474.1 378.5,474.2 380.0,474.1 381.4,473.7 382.7,473.1 383.8,472.3 384.6,471.4 385.1,470.3 385.2,469.2 385.1,468.1Z" fill="url(#gB)" stroke="#5c2c16" stroke-width="0.6" stroke-opacity="0.8"/>
<path d="M356.7,464.5 356.2,465.2 355.8,466.3 355.5,467.5 355.4,468.7 355.5,469.9 355.8,471.1 356.2,472.2 356.8,473.1 357.5,473.7 358.4,474.2 359.2,474.3 360.0,474.2 360.9,473.7 361.6,473.1 362.2,472.2 362.6,471.1 362.9,469.9 363.0,468.7 363.0,468.6 362.1,466.3Z" fill="url(#gk)" stroke="#a07aa8" stroke-width="0.6" stroke-opacity="0.8"/>
<path d="M406.9,467.0 406.8,466.3 406.5,465.5 406.1,464.9 405.4,464.4 404.7,464.0 403.9,463.7 403.0,463.6 402.1,463.7 401.3,464.0 400.6,464.4 399.9,464.9 399.5,465.5 399.2,466.3 399.1,467.0 399.2,467.7 399.5,468.5 399.9,469.1 400.6,469.6 401.3,470.0 402.1,470.3 403.0,470.4 403.9,470.3 404.7,470.0 405.4,469.6 406.1,469.1 406.5,468.5 406.8,467.7Z" fill="url(#gg)" stroke="#a494b4" stroke-width="0.6" stroke-opacity="0.8"/>
</g>
<path d="M402.8,469.5H425.9" stroke="#182024" stroke-width="1.7"/>
</g>
<g clip-path="url(#ci6)">
<rect x="444.8" y="399.2" width="74.5" height="75.0" fill="#b7d1d8"/>
<g filter="url(#cb)">
<path d="M504.0,401.2 503.8,399.7 503.2,398.7 502.3,397.9 500.0,396.8 497.4,396.4 494.6,396.8 492.3,397.9 491.2,398.9 490.6,400.8 490.8,402.3 491.4,403.3 492.3,404.1 494.6,405.2 497.2,405.6 500.0,405.2 502.3,404.1 503.4,403.1Z" fill="#eceaf2" opacity="0.9"/>
<path d="M520.7,403.6 520.4,401.8 519.8,400.3 518.8,399.0 517.5,397.9 515.9,397.1 514.2,396.7 512.6,396.5 510.8,396.7 509.1,397.1 507.4,398.0 506.1,399.2 505.1,400.5 504.6,401.8 504.3,403.4 504.6,405.2 505.2,406.7 506.2,408.0 507.5,409.1 509.1,409.9 510.8,410.3 512.4,410.5 514.2,410.3 515.9,409.9 517.6,409.0 518.9,407.8 519.9,406.5 520.4,405.2Z" fill="#eceaf2" opacity="0.9"/>
<path d="M461.7,404.0 459.3,403.3 456.9,403.1 454.5,403.3 452.5,403.9 450.4,404.9 448.5,406.4 447.3,407.9 446.5,409.8 446.2,412.1 446.5,414.2 447.2,415.8 448.7,417.7 450.4,419.1 452.3,420.0 454.7,420.7 456.9,420.9 459.3,420.7 461.2,420.2 461.8,419.7 466.0,412.5 466.2,411.8 465.2,406.5 464.8,405.9 463.8,405.0Z" fill="#eceaf2" opacity="0.9"/>
<path d="M477.6,404.7 476.5,403.5 475.2,402.5 473.5,401.9 472.1,401.7 470.5,401.9 468.8,402.5 467.5,403.5 466.6,404.5 465.7,405.9 465.2,407.3 465.9,411.8 466.5,412.5 473.1,416.0 473.8,416.1 474.3,415.8 478.6,411.1 478.9,410.6 479.0,409.1 478.8,407.4 478.4,406.1Z" fill="#eceaf2" opacity="0.9"/>
<path d="M466.9,412.5 466.2,412.4 465.6,412.9 461.5,419.9 461.5,420.8 462.7,422.7 463.6,423.0 472.5,421.2 473.2,420.5 473.7,418.1 473.5,416.3 473.0,415.7Z" fill="#eceaf2" opacity="0.9"/>
<path d="M474.9,423.0 473.3,421.2 472.5,421.0 463.3,422.8 462.5,423.4 462.2,424.3 462.3,425.0 464.8,429.4 465.4,429.8 470.6,431.1 472.9,430.1 473.9,429.3 474.8,428.2 475.3,427.0 475.6,425.6 475.4,424.3Z" fill="#eceaf2" opacity="0.9"/>
<path d="M460.1,425.2 457.4,425.6 456.0,426.4 455.0,427.2 454.2,428.3 453.6,430.5 453.8,432.0 454.3,433.1 455.1,434.1 457.2,435.5 459.9,436.0 461.0,435.6 464.9,430.2 464.9,429.1 463.2,426.1 462.6,425.6Z" fill="#eceaf2" opacity="0.9"/>
<path d="M471.2,431.5 470.6,431.0 465.7,429.7 465.1,429.7 464.7,430.1 460.6,435.9 460.4,436.8 461.5,439.0 462.1,439.6 462.9,439.9 470.3,439.3 471.0,438.8 472.1,436.5 472.2,435.1 472.1,433.5Z" fill="#eceaf2" opacity="0.9"/>
<path d="M489.4,414.6 488.5,412.9 487.2,411.4 485.5,410.2 484.0,409.6 482.1,409.4 479.7,409.8 474.4,415.5 474.0,416.2 473.8,418.2 474.0,420.2 474.6,422.0 475.5,423.7 476.9,425.3 478.3,426.2 478.9,426.4 486.5,425.7 488.5,423.7 489.4,422.0 490.0,420.4 490.2,418.2 490.0,416.4Z" fill="#eceaf2" opacity="0.9"/>
<path d="M507.3,414.3 506.8,412.5 505.8,410.8 504.3,409.2 502.9,408.2 501.1,407.5 499.2,407.3 497.3,407.5 495.3,408.2 493.7,409.3 492.4,410.8 491.4,412.5 490.9,414.3 490.7,416.3 490.9,418.3 491.4,419.9 492.4,421.6 493.7,423.1 495.3,424.2 497.3,424.9 499.0,425.1 500.9,424.9 502.9,424.2 504.6,422.8 507.4,415.6Z" fill="#eceaf2" opacity="0.9"/>
<path d="M509.6,414.5 507.9,415.1 507.1,415.8 504.8,421.8 504.7,422.4 505.1,423.0 509.5,426.7 510.3,426.9 514.9,426.1 516.4,424.9 517.2,423.7 517.4,422.4 514.4,415.5 513.8,414.9 512.4,414.5Z" fill="#eceaf2" opacity="0.9"/>
<path d="M522.4,416.4 522.1,415.1 521.2,413.2 519.7,411.9 518.7,411.7 517.7,411.8 516.7,412.3 515.8,413.2 514.9,415.1 514.7,416.7 517.3,422.7 518.1,423.2 519.7,423.1 521.2,421.8 522.2,419.8 522.4,418.6Z" fill="#eceaf2" opacity="0.9"/>
<path d="M453.1,413.8 453.0,412.8 452.3,411.5 451.3,410.7 449.8,410.3 448.8,410.4 447.5,411.1 446.7,412.1 446.3,413.6 446.6,415.1 447.1,415.9 448.1,416.7 449.6,417.1 451.1,416.8 451.9,416.3 452.8,415.1Z" fill="#eceaf2" opacity="0.9"/>
<path d="M496.2,414.4 496.0,413.2 494.9,411.5 493.4,410.5 491.3,410.1 489.2,410.4 488.1,411.0 486.7,412.5 486.2,414.2 486.4,415.4 487.5,417.1 489.0,418.1 491.1,418.5 493.2,418.2 494.3,417.6 495.7,416.1Z" fill="#eceaf2" opacity="0.9"/>
<path d="M467.0,455.8 466.2,453.8 465.0,452.2 463.4,451.0 461.5,450.1 459.5,449.5 457.5,449.3 455.3,449.5 453.3,450.1 451.4,451.0 449.7,452.4 448.6,453.8 447.8,455.5 447.5,457.6 447.8,459.5 448.6,461.2 449.7,462.6 451.4,464.0 453.1,464.9 454.9,465.4 455.7,465.3 466.8,458.2 467.3,457.2Z" fill="#eceaf2" opacity="0.9"/>
<path d="M468.3,459.6 466.0,458.9 465.1,459.0 454.0,466.2 453.4,467.4 453.8,469.6 454.6,471.5 455.8,473.1 457.3,474.4 459.5,475.5 461.6,476.1 463.9,476.3 466.0,476.1 468.1,475.5 470.9,473.9 471.2,473.2 471.8,463.4 470.7,461.0Z" fill="#eceaf2" opacity="0.9"/>
<path d="M470.3,453.4 470.5,456.0 471.1,458.6 471.6,459.2 472.3,459.3 485.8,456.1 486.3,455.8 486.6,455.2 486.7,453.6 486.5,451.0 486.0,448.7 482.8,445.0 482.0,444.7 474.6,445.0 473.8,445.4 470.8,449.7Z" fill="#eceaf2" opacity="0.9"/>
<path d="M471.1,472.9 471.3,473.7 472.3,474.6 474.0,475.7 475.6,476.3 477.4,476.5 479.4,476.3 481.0,475.7 482.5,474.8 484.0,473.3 484.8,472.0 485.5,470.2 485.7,467.9 485.0,467.0 472.8,463.4 472.0,463.5 471.6,464.3Z" fill="#eceaf2" opacity="0.9"/>
<path d="M471.8,459.9 472.1,462.9 472.8,463.6 485.1,467.3 485.7,467.3 486.2,466.9 487.4,464.6 488.0,462.4 488.2,460.1 488.0,458.4 487.4,456.5 486.9,455.9 486.2,455.8 472.6,459.0 472.0,459.3Z" fill="#eceaf2" opacity="0.9"/>
<path d="M491.0,436.5 489.4,436.3 487.8,436.4 485.5,437.4 485.1,437.9 482.6,444.2 482.7,445.3 487.4,450.3 488.0,450.6 488.9,450.4 496.0,444.7 496.3,444.1 496.2,443.3 491.9,437.0Z" fill="#eceaf2" opacity="0.9"/>
<path d="M500.3,446.7 499.3,445.7 497.8,444.9 496.4,444.5 495.6,444.7 488.9,450.2 488.5,451.0 489.0,451.8 495.0,455.9 495.8,456.0 499.4,455.0 500.2,454.5 501.1,453.1 501.8,450.6 501.5,449.0Z" fill="#eceaf2" opacity="0.9"/>
<path d="M520.7,453.3 520.0,451.5 519.0,450.2 517.8,449.2 516.1,448.2 514.4,447.7 512.6,447.6 511.0,447.7 509.3,448.2 507.6,449.2 506.4,450.2 505.4,451.5 504.8,453.0 504.5,454.4 504.8,455.2 510.4,461.6 511.0,461.9 512.8,462.0 514.6,461.8 516.3,461.3 517.8,460.4 519.1,459.3 520.1,457.9 520.7,456.3 520.9,454.9Z" fill="#eceaf2" opacity="0.9"/>
<path d="M473.2,455.6 472.8,453.5 472.1,452.4 470.5,451.1 468.7,450.7 467.4,450.8 465.6,451.8 464.5,453.3 464.0,455.4 464.4,457.5 465.1,458.6 466.7,459.9 468.5,460.3 469.8,460.2 471.6,459.2 472.7,457.7Z" fill="#eceaf2" opacity="0.9"/>
<path d="M478.1,426.2 476.6,426.4 475.1,426.9 473.6,427.8 472.5,428.9 471.7,430.3 471.2,431.8 471.0,433.1 471.2,434.6 471.6,435.4 472.2,435.5 480.4,435.5 481.2,435.2 481.4,434.3 479.6,427.0 479.3,426.5Z" fill="#eceaf2" opacity="0.9"/>
<path d="M473.8,444.7 474.7,445.2 481.9,444.9 482.7,444.3 485.0,438.7 485.0,438.1 484.6,437.5 481.8,435.5 481.2,435.3 472.0,435.3 471.4,435.5 470.6,437.4 470.6,439.2Z" fill="#eceaf2" opacity="0.9"/>
<path d="M462.6,439.8 462.0,440.0 461.2,440.9 460.4,442.0 459.8,443.6 459.6,445.4 459.8,447.0 460.3,448.3 461.3,449.9 462.5,451.0 463.8,451.8 465.6,452.4 467.0,452.5 468.6,452.4 469.3,452.0 473.9,445.6 473.9,444.5 471.1,439.6 470.1,439.1Z" fill="#eceaf2" opacity="0.9"/>
<path d="M488.1,427.8 486.9,426.5 485.5,425.7 480.4,426.1 479.6,426.5 479.5,427.3 481.4,435.1 481.8,435.7 485.0,438.0 485.6,438.2 486.9,437.5 488.0,436.4 488.7,435.1 489.2,433.6 489.4,432.1 489.3,430.6 488.8,429.1Z" fill="#eceaf2" opacity="0.9"/>
<path d="M504.3,422.5 502.0,423.0 500.8,423.7 499.7,424.8 499.0,426.0 498.6,427.3 498.6,429.7 499.3,431.3 503.6,434.3 504.4,434.5 505.7,434.4 507.2,433.9 508.0,433.1 509.8,427.5 509.4,426.4 505.1,422.7Z" fill="#eceaf2" opacity="0.9"/>
<path d="M518.2,429.0 517.3,427.8 515.2,426.6 513.5,426.2 510.4,426.7 509.6,427.4 507.7,433.2 507.9,434.1 509.1,435.1 511.5,436.0 514.1,435.9 516.3,435.1 517.4,434.2 518.5,432.4 518.7,431.0Z" fill="#eceaf2" opacity="0.9"/>
<path d="M504.6,435.0 504.2,434.5 499.8,431.4 498.1,431.1 495.3,431.7 493.8,432.5 492.7,433.6 491.4,435.9 491.5,436.8 495.9,443.3 496.6,443.7 498.3,443.9 499.8,443.7 501.3,443.2 502.6,442.5 503.7,441.4 504.5,440.2 505.0,438.8 505.2,437.4Z" fill="#eceaf2" opacity="0.9"/>
<path d="M487.0,455.5 488.6,460.9 489.2,461.5 489.9,461.7 492.1,461.7 492.8,461.2 495.1,456.8 495.2,456.1 494.8,455.5 489.4,451.8 488.8,451.6 488.1,451.9 487.7,452.5Z" fill="#eceaf2" opacity="0.9"/>
<path d="M501.7,456.5 500.0,455.0 499.2,454.8 495.7,455.8 495.1,456.3 492.8,460.8 492.9,462.0 493.6,463.3 495.4,464.7 497.5,465.2 498.9,465.1 500.8,464.1 501.5,463.1 502.2,457.7Z" fill="#eceaf2" opacity="0.9"/>
<path d="M503.6,456.2 502.5,456.9 502.0,457.6 501.3,463.0 501.4,463.7 502.6,465.0 504.5,465.9 505.9,466.1 508.0,465.6 509.1,464.9 510.4,463.3 510.7,462.4 510.6,461.4 505.9,456.1 505.0,455.8Z" fill="#eceaf2" opacity="0.9"/>
<path d="M519.0,464.1 518.8,462.8 517.8,460.8 516.0,459.5 514.1,459.0 512.8,459.2 510.8,460.2 509.6,461.7 509.0,463.9 509.5,466.0 510.2,467.2 512.0,468.5 513.9,469.0 515.2,468.8 517.2,467.8 518.4,466.3Z" fill="#eceaf2" opacity="0.9"/>
<path d="M503.1,401.0 502.9,400.2 502.5,399.4 501.8,398.8 500.9,398.2 499.8,397.8 498.6,397.5 497.3,397.4 496.0,397.5 494.8,397.8 493.7,398.2 492.8,398.8 492.1,399.4 491.7,400.2 491.5,401.0 491.7,401.8 492.1,402.6 492.8,403.2 493.7,403.8 494.8,404.2 496.0,404.5 497.3,404.6 498.6,404.5 499.8,404.2 500.9,403.8 501.8,403.2 502.5,402.6 502.9,401.8Z" fill="url(#gk)" stroke="#a07aa8" stroke-width="0.6" stroke-opacity="0.8"/>
<path d="M519.7,403.5 519.5,402.2 519.0,400.9 518.1,399.8 517.0,398.8 515.6,398.1 514.1,397.7 512.5,397.5 510.9,397.7 509.4,398.1 508.0,398.8 506.9,399.8 506.0,400.9 505.5,402.2 505.3,403.5 505.5,404.8 506.0,406.1 506.9,407.2 508.0,408.2 509.4,408.9 510.9,409.3 512.5,409.5 514.1,409.3 515.6,408.9 517.0,408.2 518.1,407.2 519.0,406.1 519.5,404.8Z" fill="url(#gK)" stroke="#9478ae" stroke-width="0.6" stroke-opacity="0.8"/>
<path d="M461.3,404.9 459.2,404.3 457.0,404.1 454.8,404.3 452.7,404.9 450.9,405.8 449.3,407.1 448.1,408.6 447.4,410.2 447.2,412.0 447.4,413.8 448.1,415.4 449.3,416.9 450.9,418.2 452.7,419.1 454.8,419.7 457.0,419.9 459.2,419.7 461.0,419.2 465.2,412.0 464.2,406.6 463.1,405.8Z" fill="url(#gk)" stroke="#a07aa8" stroke-width="0.6" stroke-opacity="0.8"/>
<path d="M476.7,405.2 475.7,404.1 474.6,403.4 473.3,402.9 472.0,402.7 470.7,402.9 469.4,403.4 468.3,404.1 467.3,405.2 466.6,406.4 466.2,407.6 466.9,411.6 473.6,415.1 477.9,410.5 478.0,409.2 477.8,407.8 477.4,406.4Z" fill="url(#gk)" stroke="#a07aa8" stroke-width="0.6" stroke-opacity="0.8"/>
<path d="M466.5,413.4 462.4,420.4 462.4,420.5 463.1,421.6 463.4,422.0 472.3,420.2 472.6,419.3 472.7,418.0 472.6,416.7 472.5,416.6Z" fill="url(#gk)" stroke="#a07aa8" stroke-width="0.6" stroke-opacity="0.8"/>
<path d="M473.3,422.5 472.7,422.0 463.4,423.8 463.2,424.4 463.2,424.5 465.7,428.9 470.3,430.1 471.3,429.8 472.4,429.3 473.3,428.5 474.0,427.6 474.4,426.6 474.6,425.5 474.4,424.4 474.0,423.4Z" fill="url(#gk)" stroke="#a07aa8" stroke-width="0.6" stroke-opacity="0.8"/>
<path d="M460.0,426.2 458.8,426.3 457.7,426.6 456.6,427.1 455.8,427.8 455.1,428.7 454.7,429.6 454.6,430.6 454.7,431.6 455.1,432.5 455.8,433.4 456.6,434.1 457.7,434.6 458.8,434.9 460.0,435.0 460.2,435.0 464.0,429.6 462.3,426.6 461.2,426.3Z" fill="url(#gk)" stroke="#a07aa8" stroke-width="0.6" stroke-opacity="0.8"/>
<path d="M470.4,432.0 465.5,430.7 461.4,436.5 461.7,437.3 462.3,438.4 462.8,438.9 470.2,438.3 470.7,437.3 471.1,436.2 471.2,435.0 471.1,433.8 470.7,432.7Z" fill="url(#gk)" stroke="#a07aa8" stroke-width="0.6" stroke-opacity="0.8"/>
<path d="M488.5,414.9 487.6,413.4 486.5,412.1 485.1,411.2 483.6,410.6 482.0,410.4 480.4,410.6 480.1,410.7 475.1,416.2 475.0,416.5 474.8,418.3 475.0,420.1 475.5,421.7 476.4,423.2 477.5,424.5 478.8,425.4 485.9,424.9 486.5,424.5 487.6,423.2 488.5,421.7 489.0,420.1 489.2,418.3 489.0,416.5Z" fill="url(#gk)" stroke="#a07aa8" stroke-width="0.6" stroke-opacity="0.8"/>
<path d="M506.4,414.4 505.8,412.8 504.9,411.3 503.7,410.0 502.3,409.1 500.8,408.5 499.1,408.3 497.4,408.5 495.9,409.1 494.5,410.0 493.3,411.3 492.4,412.8 491.8,414.4 491.7,416.2 491.8,418.0 492.4,419.6 493.3,421.1 494.5,422.4 495.9,423.3 497.4,423.9 499.1,424.1 500.8,423.9 502.3,423.3 503.7,422.4 506.4,415.3Z" fill="url(#gK)" stroke="#9478ae" stroke-width="0.6" stroke-opacity="0.8"/>
<path d="M509.7,415.5 508.4,415.9 508.0,416.1 505.7,422.2 510.1,425.9 514.4,425.2 514.7,425.0 515.7,424.2 516.4,423.1 516.5,422.8 513.5,415.9 512.3,415.5 511.0,415.4Z" fill="url(#gK)" stroke="#9478ae" stroke-width="0.6" stroke-opacity="0.8"/>
<path d="M521.4,416.4 521.2,415.4 520.8,414.5 520.4,413.7 519.8,413.2 519.2,412.8 518.5,412.7 517.8,412.8 517.2,413.2 516.6,413.7 516.2,414.5 515.8,415.4 515.6,416.3 518.3,422.3 518.5,422.3 519.2,422.2 519.8,421.8 520.4,421.3 520.8,420.5 521.2,419.6 521.4,418.6 521.5,417.5Z" fill="url(#gk)" stroke="#a07aa8" stroke-width="0.6" stroke-opacity="0.8"/>
<path d="M452.1,413.7 452.0,413.2 451.9,412.7 451.6,412.2 451.2,411.8 450.7,411.5 450.2,411.4 449.7,411.3 449.2,411.4 448.7,411.5 448.2,411.8 447.8,412.2 447.5,412.7 447.4,413.2 447.3,413.7 447.4,414.2 447.5,414.7 447.8,415.2 448.2,415.6 448.7,415.9 449.2,416.0 449.7,416.1 450.2,416.0 450.7,415.9 451.2,415.6 451.6,415.2 451.9,414.7 452.0,414.2Z" fill="url(#gm)" stroke="#984476" stroke-width="0.6" stroke-opacity="0.8"/>
<path d="M495.2,414.3 495.1,413.6 494.8,412.9 494.3,412.3 493.7,411.8 492.9,411.4 492.1,411.1 491.2,411.1 490.3,411.1 489.5,411.4 488.7,411.8 488.1,412.3 487.6,412.9 487.3,413.6 487.2,414.3 487.3,415.0 487.6,415.7 488.1,416.3 488.7,416.8 489.5,417.2 490.3,417.5 491.2,417.5 492.1,417.5 492.9,417.2 493.7,416.8 494.3,416.3 494.8,415.7 495.1,415.0Z" fill="url(#gm)" stroke="#984476" stroke-width="0.6" stroke-opacity="0.8"/>
<path d="M466.1,455.9 465.4,454.4 464.3,453.0 462.9,451.9 461.3,451.0 459.4,450.5 457.4,450.3 455.4,450.5 453.5,451.0 451.9,451.9 450.5,453.0 449.4,454.4 448.7,455.9 448.5,457.5 448.7,459.1 449.4,460.6 450.5,462.0 451.9,463.1 453.5,464.0 455.2,464.5 466.3,457.4Z" fill="url(#gk)" stroke="#a07aa8" stroke-width="0.6" stroke-opacity="0.8"/>
<path d="M467.9,460.5 465.9,459.9 465.7,459.9 454.5,467.0 454.4,467.5 454.7,469.2 455.4,470.9 456.5,472.4 458.0,473.6 459.7,474.5 461.7,475.1 463.8,475.3 465.9,475.1 467.9,474.5 469.6,473.6 470.2,473.1 470.8,463.3 470.1,461.8 469.6,461.4Z" fill="url(#gK)" stroke="#9478ae" stroke-width="0.6" stroke-opacity="0.8"/>
<path d="M471.3,453.5 471.5,455.9 472.0,458.2 472.1,458.3 485.6,455.2 485.7,453.5 485.5,451.1 485.0,448.9 482.1,445.7 474.6,446.0 471.8,449.9 471.5,451.1Z" fill="url(#gk)" stroke="#a07aa8" stroke-width="0.6" stroke-opacity="0.8"/>
<path d="M472.1,473.0 473.0,473.9 474.4,474.8 475.9,475.3 477.5,475.5 479.1,475.3 480.6,474.8 482.0,473.9 483.1,472.8 484.0,471.4 484.5,469.9 484.7,468.3 484.7,468.0 472.6,464.4Z" fill="url(#gK)" stroke="#9478ae" stroke-width="0.6" stroke-opacity="0.8"/>
<path d="M472.8,460.0 473.0,462.1 473.1,462.6 485.4,466.3 485.6,466.0 486.5,464.2 487.0,462.1 487.2,460.0 487.1,458.8 486.5,456.8 472.8,460.0Z" fill="url(#gK)" stroke="#9478ae" stroke-width="0.6" stroke-opacity="0.8"/>
<path d="M490.7,437.4 489.3,437.3 487.9,437.4 486.6,437.9 486.0,438.2 483.5,444.6 488.1,449.6 488.3,449.6 495.3,443.9 491.0,437.5Z" fill="url(#gg)" stroke="#a494b4" stroke-width="0.6" stroke-opacity="0.8"/>
<path d="M499.5,447.3 498.6,446.5 497.5,445.9 496.3,445.5 496.3,445.5 489.5,451.0 495.5,455.0 499.2,454.0 499.5,453.7 500.2,452.7 500.6,451.6 500.8,450.5 500.6,449.4 500.2,448.3Z" fill="url(#gg)" stroke="#a494b4" stroke-width="0.6" stroke-opacity="0.8"/>
<path d="M519.7,453.4 519.2,452.1 518.3,450.9 517.2,449.9 515.8,449.2 514.3,448.7 512.7,448.6 511.1,448.7 509.6,449.2 508.2,449.9 507.1,450.9 506.2,452.1 505.7,453.4 505.5,454.5 511.1,460.9 512.7,461.0 514.3,460.9 515.8,460.4 517.2,459.7 518.3,458.7 519.2,457.5 519.7,456.2 519.9,454.8Z" fill="url(#gK)" stroke="#9478ae" stroke-width="0.6" stroke-opacity="0.8"/>
<path d="M472.2,455.5 472.1,454.6 471.8,453.8 471.4,453.1 470.8,452.5 470.2,452.0 469.4,451.8 468.6,451.7 467.8,451.8 467.0,452.0 466.4,452.5 465.8,453.1 465.4,453.8 465.1,454.6 465.0,455.5 465.1,456.4 465.4,457.2 465.8,457.9 466.4,458.5 467.0,459.0 467.8,459.2 468.6,459.3 469.4,459.2 470.2,459.0 470.8,458.5 471.4,457.9 471.8,457.2 472.1,456.4Z" fill="url(#gm)" stroke="#984476" stroke-width="0.6" stroke-opacity="0.8"/>
<path d="M478.0,427.2 476.7,427.4 475.4,427.8 474.3,428.5 473.3,429.5 472.6,430.6 472.2,431.9 472.0,433.2 472.2,434.5 472.2,434.5 480.4,434.5 478.6,427.3Z" fill="url(#gx)" stroke="#5e2410" stroke-width="0.6" stroke-opacity="0.8"/>
<path d="M474.6,444.2 481.8,443.9 484.0,438.3 481.2,436.3 472.0,436.3 471.6,437.5 471.4,438.7Z" fill="url(#gd)" stroke="#58220e" stroke-width="0.6" stroke-opacity="0.8"/>
<path d="M462.7,440.8 462.0,441.4 461.3,442.6 460.8,443.9 460.6,445.3 460.8,446.7 461.3,448.0 462.0,449.2 463.1,450.2 464.3,450.9 465.7,451.4 467.1,451.5 468.5,451.4 473.0,445.0 470.2,440.1Z" fill="url(#gb)" stroke="#6a2a14" stroke-width="0.6" stroke-opacity="0.8"/>
<path d="M487.2,428.3 486.4,427.3 485.5,426.7 480.5,427.1 482.3,434.9 485.6,437.2 486.4,436.7 487.2,435.7 487.9,434.6 488.3,433.3 488.4,432.0 488.3,430.7 487.9,429.4Z" fill="url(#gx)" stroke="#5e2410" stroke-width="0.6" stroke-opacity="0.8"/>
<path d="M503.4,423.6 502.3,424.0 501.4,424.6 500.6,425.4 500.0,426.3 499.6,427.4 499.5,428.5 499.6,429.6 499.9,430.5 504.2,433.5 504.5,433.5 505.6,433.4 506.7,433.0 507.0,432.8 508.8,427.2 504.4,423.5Z" fill="url(#go)" stroke="#763418" stroke-width="0.6" stroke-opacity="0.8"/>
<path d="M517.2,429.4 516.6,428.6 515.8,428.0 514.9,427.5 513.8,427.2 513.4,427.2 510.5,427.7 508.7,433.5 508.8,433.6 509.6,434.2 510.5,434.7 511.6,435.0 512.7,435.1 513.8,435.0 514.9,434.7 515.8,434.2 516.6,433.6 517.2,432.8 517.6,432.0 517.7,431.1 517.6,430.2Z" fill="url(#gb)" stroke="#6a2a14" stroke-width="0.6" stroke-opacity="0.8"/>
<path d="M503.7,435.3 499.2,432.2 498.2,432.1 496.9,432.2 495.6,432.6 494.5,433.3 493.5,434.1 492.8,435.2 492.4,436.3 496.7,442.7 496.9,442.8 498.2,442.9 499.5,442.8 500.8,442.4 501.9,441.7 502.9,440.9 503.6,439.8 504.0,438.7 504.2,437.5 504.0,436.3Z" fill="url(#go)" stroke="#763418" stroke-width="0.6" stroke-opacity="0.8"/>
<path d="M488.0,455.7 489.6,460.5 490.1,460.7 491.0,460.8 491.9,460.7 494.2,456.3 488.8,452.6 488.7,452.7Z" fill="url(#gb)" stroke="#6a2a14" stroke-width="0.6" stroke-opacity="0.8"/>
<path d="M500.9,457.0 500.2,456.3 499.4,455.8 496.0,456.8 493.7,461.3 493.8,461.7 494.3,462.6 495.0,463.3 495.8,463.8 496.7,464.1 497.6,464.2 498.5,464.1 499.4,463.8 500.2,463.3 500.5,463.0 501.2,457.6Z" fill="url(#go)" stroke="#763418" stroke-width="0.6" stroke-opacity="0.8"/>
<path d="M504.0,457.1 503.2,457.6 503.0,457.8 502.3,463.2 502.5,463.5 503.2,464.2 504.0,464.7 504.9,465.0 505.8,465.1 506.7,465.0 507.6,464.7 508.4,464.2 509.1,463.5 509.6,462.7 509.8,462.1 505.1,456.8 504.9,456.8Z" fill="url(#gr)" stroke="#6a1e24" stroke-width="0.6" stroke-opacity="0.8"/>
<path d="M518.0,464.0 517.9,463.1 517.6,462.3 517.1,461.5 516.5,460.9 515.7,460.4 514.9,460.1 514.0,460.0 513.1,460.1 512.3,460.4 511.5,460.9 510.9,461.5 510.4,462.3 510.1,463.1 510.0,464.0 510.1,464.9 510.4,465.7 510.9,466.5 511.5,467.1 512.3,467.6 513.1,467.9 514.0,468.0 514.9,467.9 515.7,467.6 516.5,467.1 517.1,466.5 517.6,465.7 517.9,464.9Z" fill="url(#gm)" stroke="#984476" stroke-width="0.6" stroke-opacity="0.8"/>
</g>
<path d="M491,469.6H513.6" stroke="#182024" stroke-width="1.7"/>
</g>
<text class="t9" transform="translate(297.9,303.9) scale(1.07,1)">Sc</text>
<text class="t9" transform="translate(376.8,304.2) scale(1.07,1)">Bag1 A</text>
<text class="t9" transform="translate(470.8,304.1) scale(1.07,1)">Bag1 B</text>
<text class="tv" transform="translate(256.2,374.6) rotate(-90) scale(1,1.07)">proliferation</text>
<text class="tv" transform="translate(256.6,463) rotate(-90) scale(1,1.07)">differentiation</text>
</g></svg></body></html>
